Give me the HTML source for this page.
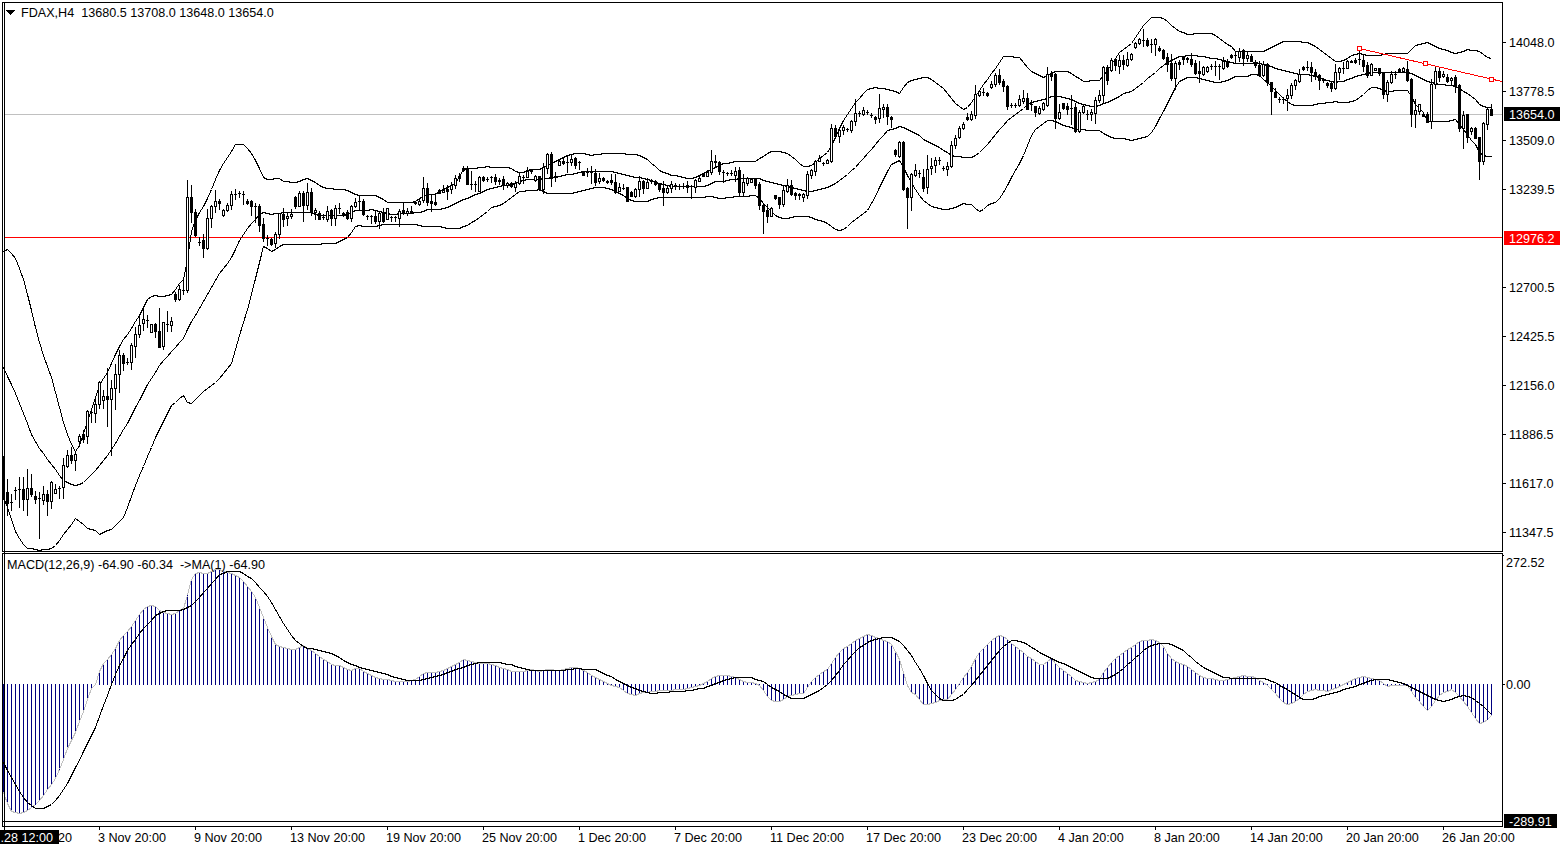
<!DOCTYPE html>
<html><head><meta charset="utf-8"><style>
html,body{margin:0;padding:0;background:#fff;width:1566px;height:850px;overflow:hidden}
svg{display:block}
.t{font-family:"Liberation Sans",sans-serif;font-size:12.6px;fill:#000;white-space:pre}
.w{fill:#fff}
</style></head><body>
<svg width="1566" height="850" viewBox="0 0 1566 850" shape-rendering="crispEdges">
<rect x="5" y="114" width="1497" height="1" fill="#c0c0c0"/>
<rect x="5" y="237" width="1497" height="1" fill="#ff0000"/>
<polyline points="3.5,251.5 7.5,249.5 11.5,253.5 15.5,258.5 19.5,268.5 23.5,279.5 27.5,294.5 31.5,310.5 35.5,327.5 39.5,342.5 43.5,355.5 47.5,366.5 51.5,377.5 55.5,392.5 59.5,407.5 63.5,422.5 67.5,434.5 71.5,444.5 75.5,451.5 79.5,445.5 83.5,433.5 87.5,421.5 91.5,409.5 95.5,397.5 99.5,385.5 103.5,378.5 107.5,372.5 111.5,363.5 115.5,354.5 119.5,346.5 123.5,339.5 127.5,334.5 131.5,328.5 135.5,321.5 139.5,315.5 143.5,307.5 147.5,299.5 151.5,296.5 155.5,295.5 159.5,296.5 163.5,296.5 167.5,295.5 171.5,294.5 175.5,289.5 179.5,283.5 183.5,279.5 187.5,259.5 191.5,231.5 195.5,220.5 199.5,212.5 203.5,206.5 207.5,198.5 211.5,189.5 215.5,179.5 219.5,170.5 223.5,163.5 227.5,157.5 231.5,151.5 235.5,144.5 239.5,144.5 243.5,144.5 247.5,148.5 251.5,153.5 255.5,160.5 259.5,168.5 263.5,177.5 267.5,179.5 271.5,179.5 275.5,178.5 279.5,178.5 283.5,181.5 287.5,181.5 291.5,182.5 295.5,182.5 299.5,181.5 303.5,179.5 307.5,178.5 311.5,180.5 315.5,182.5 319.5,185.5 323.5,187.5 327.5,188.5 331.5,188.5 335.5,189.5 339.5,189.5 343.5,189.5 347.5,190.5 351.5,192.5 355.5,194.5 359.5,195.5 363.5,195.5 367.5,195.5 371.5,195.5 375.5,195.5 379.5,197.5 383.5,199.5 387.5,202.5 391.5,202.5 395.5,202.5 399.5,202.5 403.5,202.5 407.5,202.5 411.5,202.5 415.5,201.5 419.5,198.5 423.5,196.5 427.5,194.5 431.5,194.5 435.5,194.5 439.5,191.5 443.5,189.5 447.5,187.5 451.5,185.5 455.5,183.5 459.5,176.5 463.5,169.5 467.5,168.5 471.5,168.5 475.5,168.5 479.5,167.5 483.5,167.5 487.5,166.5 491.5,167.5 495.5,167.5 499.5,167.5 503.5,167.5 507.5,167.5 511.5,168.5 515.5,171.5 519.5,172.5 523.5,172.5 527.5,170.5 531.5,169.5 535.5,169.5 539.5,169.5 543.5,167.5 547.5,165.5 551.5,163.5 555.5,161.5 559.5,159.5 563.5,157.5 567.5,155.5 571.5,154.5 575.5,153.5 579.5,153.5 583.5,153.5 587.5,154.5 591.5,155.5 595.5,154.5 599.5,154.5 603.5,153.5 607.5,153.5 611.5,153.5 615.5,153.5 619.5,153.5 623.5,153.5 627.5,154.5 631.5,154.5 635.5,154.5 639.5,155.5 643.5,157.5 647.5,159.5 651.5,163.5 655.5,166.5 659.5,170.5 663.5,172.5 667.5,173.5 671.5,175.5 675.5,175.5 679.5,176.5 683.5,177.5 687.5,178.5 691.5,178.5 695.5,177.5 699.5,175.5 703.5,173.5 707.5,171.5 711.5,169.5 715.5,167.5 719.5,165.5 723.5,163.5 727.5,163.5 731.5,162.5 735.5,161.5 739.5,161.5 743.5,161.5 747.5,161.5 751.5,161.5 755.5,161.5 759.5,158.5 763.5,156.5 767.5,153.5 771.5,151.5 775.5,151.5 779.5,151.5 783.5,152.5 787.5,153.5 791.5,156.5 795.5,159.5 799.5,163.5 803.5,166.5 807.5,166.5 811.5,165.5 815.5,162.5 819.5,158.5 823.5,155.5 827.5,152.5 831.5,145.5 835.5,137.5 839.5,128.5 843.5,120.5 847.5,114.5 851.5,108.5 855.5,102.5 859.5,98.5 863.5,93.5 867.5,89.5 871.5,88.5 875.5,87.5 879.5,88.5 883.5,88.5 887.5,89.5 891.5,90.5 895.5,91.5 899.5,93.5 903.5,87.5 907.5,82.5 911.5,80.5 915.5,79.5 919.5,78.5 923.5,77.5 927.5,77.5 931.5,79.5 935.5,82.5 939.5,85.5 943.5,88.5 947.5,93.5 951.5,98.5 955.5,103.5 959.5,106.5 963.5,109.5 967.5,107.5 971.5,102.5 975.5,96.5 979.5,90.5 983.5,84.5 987.5,79.5 991.5,73.5 995.5,68.5 999.5,62.5 1003.5,56.5 1007.5,56.5 1011.5,56.5 1015.5,57.5 1019.5,57.5 1023.5,62.5 1027.5,67.5 1031.5,71.5 1035.5,73.5 1039.5,75.5 1043.5,77.5 1047.5,75.5 1051.5,73.5 1055.5,71.5 1059.5,71.5 1063.5,71.5 1067.5,71.5 1071.5,73.5 1075.5,76.5 1079.5,78.5 1083.5,81.5 1087.5,81.5 1091.5,80.5 1095.5,80.5 1099.5,80.5 1103.5,75.5 1107.5,70.5 1111.5,64.5 1115.5,58.5 1119.5,52.5 1123.5,49.5 1127.5,46.5 1131.5,43.5 1135.5,37.5 1139.5,31.5 1143.5,25.5 1147.5,21.5 1151.5,17.5 1155.5,17.5 1159.5,17.5 1163.5,18.5 1167.5,21.5 1171.5,25.5 1175.5,28.5 1179.5,31.5 1183.5,32.5 1187.5,34.5 1191.5,34.5 1195.5,33.5 1199.5,33.5 1203.5,33.5 1207.5,33.5 1211.5,33.5 1215.5,35.5 1219.5,38.5 1223.5,41.5 1227.5,44.5 1231.5,46.5 1235.5,51.5 1239.5,51.5 1243.5,51.5 1247.5,51.5 1251.5,51.5 1255.5,51.5 1259.5,51.5 1263.5,51.5 1267.5,49.5 1271.5,47.5 1275.5,45.5 1279.5,43.5 1283.5,41.5 1287.5,41.5 1291.5,41.5 1295.5,41.5 1299.5,41.5 1303.5,42.5 1307.5,42.5 1311.5,44.5 1315.5,46.5 1319.5,49.5 1323.5,52.5 1327.5,55.5 1331.5,58.5 1335.5,61.5 1339.5,61.5 1343.5,60.5 1347.5,58.5 1351.5,55.5 1355.5,54.5 1359.5,53.5 1363.5,54.5 1367.5,55.5 1371.5,55.5 1375.5,55.5 1379.5,55.5 1383.5,54.5 1387.5,53.5 1391.5,53.5 1395.5,53.5 1399.5,53.5 1403.5,53.5 1407.5,53.5 1411.5,49.5 1415.5,45.5 1419.5,44.5 1423.5,43.5 1427.5,42.5 1431.5,44.5 1435.5,46.5 1439.5,48.5 1443.5,49.5 1447.5,50.5 1451.5,52.5 1455.5,53.5 1459.5,52.5 1463.5,51.5 1467.5,49.5 1471.5,50.5 1475.5,50.5 1479.5,51.5 1483.5,54.5 1487.5,57.5 1491.5,58.5" fill="none" stroke="#000" stroke-width="1"/>
<polyline points="3.5,367.5 7.5,376.5 11.5,384.5 15.5,393.5 19.5,403.5 23.5,413.5 27.5,423.5 31.5,434.5 35.5,441.5 39.5,448.5 43.5,453.5 47.5,459.5 51.5,464.5 55.5,469.5 59.5,475.5 63.5,480.5 67.5,482.5 71.5,484.5 75.5,485.5 79.5,484.5 83.5,482.5 87.5,478.5 91.5,474.5 95.5,470.5 99.5,465.5 103.5,460.5 107.5,455.5 111.5,449.5 115.5,443.5 119.5,436.5 123.5,429.5 127.5,423.5 131.5,415.5 135.5,407.5 139.5,400.5 143.5,392.5 147.5,384.5 151.5,378.5 155.5,372.5 159.5,365.5 163.5,360.5 167.5,356.5 171.5,351.5 175.5,347.5 179.5,342.5 183.5,338.5 187.5,329.5 191.5,321.5 195.5,315.5 199.5,308.5 203.5,301.5 207.5,294.5 211.5,287.5 215.5,280.5 219.5,273.5 223.5,268.5 227.5,263.5 231.5,257.5 235.5,249.5 239.5,240.5 243.5,234.5 247.5,228.5 251.5,223.5 255.5,219.5 259.5,214.5 263.5,212.5 267.5,213.5 271.5,214.5 275.5,213.5 279.5,213.5 283.5,212.5 287.5,212.5 291.5,212.5 295.5,212.5 299.5,212.5 303.5,212.5 307.5,212.5 311.5,212.5 315.5,214.5 319.5,215.5 323.5,215.5 327.5,215.5 331.5,215.5 335.5,215.5 339.5,215.5 343.5,215.5 347.5,214.5 351.5,212.5 355.5,210.5 359.5,210.5 363.5,210.5 367.5,210.5 371.5,209.5 375.5,210.5 379.5,211.5 383.5,212.5 387.5,213.5 391.5,214.5 395.5,214.5 399.5,213.5 403.5,213.5 407.5,213.5 411.5,213.5 415.5,212.5 419.5,212.5 423.5,211.5 427.5,209.5 431.5,209.5 435.5,209.5 439.5,209.5 443.5,208.5 447.5,207.5 451.5,205.5 455.5,203.5 459.5,201.5 463.5,199.5 467.5,198.5 471.5,196.5 475.5,194.5 479.5,193.5 483.5,191.5 487.5,189.5 491.5,188.5 495.5,187.5 499.5,186.5 503.5,185.5 507.5,185.5 511.5,184.5 515.5,183.5 519.5,181.5 523.5,180.5 527.5,179.5 531.5,179.5 535.5,179.5 539.5,179.5 543.5,178.5 547.5,178.5 551.5,177.5 555.5,177.5 559.5,176.5 563.5,175.5 567.5,174.5 571.5,174.5 575.5,173.5 579.5,172.5 583.5,171.5 587.5,171.5 591.5,171.5 595.5,171.5 599.5,171.5 603.5,171.5 607.5,171.5 611.5,171.5 615.5,172.5 619.5,173.5 623.5,174.5 627.5,175.5 631.5,176.5 635.5,177.5 639.5,177.5 643.5,178.5 647.5,179.5 651.5,180.5 655.5,182.5 659.5,183.5 663.5,184.5 667.5,185.5 671.5,186.5 675.5,186.5 679.5,186.5 683.5,186.5 687.5,186.5 691.5,186.5 695.5,186.5 699.5,186.5 703.5,186.5 707.5,185.5 711.5,183.5 715.5,181.5 719.5,181.5 723.5,181.5 727.5,180.5 731.5,179.5 735.5,179.5 739.5,178.5 743.5,178.5 747.5,178.5 751.5,178.5 755.5,178.5 759.5,178.5 763.5,180.5 767.5,181.5 771.5,182.5 775.5,183.5 779.5,184.5 783.5,185.5 787.5,186.5 791.5,187.5 795.5,188.5 799.5,189.5 803.5,190.5 807.5,191.5 811.5,191.5 815.5,190.5 819.5,189.5 823.5,188.5 827.5,187.5 831.5,185.5 835.5,183.5 839.5,180.5 843.5,177.5 847.5,174.5 851.5,170.5 855.5,167.5 859.5,162.5 863.5,158.5 867.5,153.5 871.5,149.5 875.5,144.5 879.5,139.5 883.5,135.5 887.5,130.5 891.5,129.5 895.5,128.5 899.5,126.5 903.5,127.5 907.5,129.5 911.5,131.5 915.5,133.5 919.5,135.5 923.5,139.5 927.5,141.5 931.5,143.5 935.5,145.5 939.5,147.5 943.5,150.5 947.5,152.5 951.5,155.5 955.5,156.5 959.5,156.5 963.5,157.5 967.5,157.5 971.5,157.5 975.5,155.5 979.5,152.5 983.5,148.5 987.5,144.5 991.5,139.5 995.5,134.5 999.5,129.5 1003.5,125.5 1007.5,120.5 1011.5,117.5 1015.5,114.5 1019.5,111.5 1023.5,108.5 1027.5,104.5 1031.5,102.5 1035.5,101.5 1039.5,100.5 1043.5,99.5 1047.5,98.5 1051.5,96.5 1055.5,96.5 1059.5,96.5 1063.5,97.5 1067.5,98.5 1071.5,99.5 1075.5,101.5 1079.5,103.5 1083.5,104.5 1087.5,105.5 1091.5,106.5 1095.5,106.5 1099.5,105.5 1103.5,103.5 1107.5,102.5 1111.5,100.5 1115.5,98.5 1119.5,96.5 1123.5,93.5 1127.5,92.5 1131.5,91.5 1135.5,88.5 1139.5,85.5 1143.5,82.5 1147.5,78.5 1151.5,75.5 1155.5,72.5 1159.5,68.5 1163.5,65.5 1167.5,62.5 1171.5,60.5 1175.5,58.5 1179.5,56.5 1183.5,56.5 1187.5,55.5 1191.5,55.5 1195.5,55.5 1199.5,56.5 1203.5,56.5 1207.5,57.5 1211.5,58.5 1215.5,58.5 1219.5,59.5 1223.5,60.5 1227.5,61.5 1231.5,62.5 1235.5,63.5 1239.5,63.5 1243.5,63.5 1247.5,63.5 1251.5,63.5 1255.5,62.5 1259.5,63.5 1263.5,64.5 1267.5,65.5 1271.5,66.5 1275.5,68.5 1279.5,69.5 1283.5,70.5 1287.5,71.5 1291.5,72.5 1295.5,73.5 1299.5,74.5 1303.5,74.5 1307.5,74.5 1311.5,75.5 1315.5,76.5 1319.5,77.5 1323.5,79.5 1327.5,80.5 1331.5,81.5 1335.5,82.5 1339.5,81.5 1343.5,81.5 1347.5,79.5 1351.5,78.5 1355.5,76.5 1359.5,75.5 1363.5,74.5 1367.5,73.5 1371.5,72.5 1375.5,72.5 1379.5,72.5 1383.5,72.5 1387.5,72.5 1391.5,72.5 1395.5,72.5 1399.5,72.5 1403.5,72.5 1407.5,72.5 1411.5,73.5 1415.5,75.5 1419.5,77.5 1423.5,79.5 1427.5,81.5 1431.5,82.5 1435.5,83.5 1439.5,84.5 1443.5,84.5 1447.5,85.5 1451.5,85.5 1455.5,86.5 1459.5,88.5 1463.5,91.5 1467.5,93.5 1471.5,96.5 1475.5,99.5 1479.5,104.5 1483.5,106.5 1487.5,107.5 1491.5,107.5" fill="none" stroke="#000" stroke-width="1"/>
<polyline points="3.5,497.5 7.5,507.5 11.5,519.5 15.5,531.5 19.5,538.5 23.5,544.5 27.5,548.5 31.5,548.5 35.5,549.5 39.5,550.5 43.5,549.5 47.5,549.5 51.5,548.5 55.5,545.5 59.5,540.5 63.5,534.5 67.5,529.5 71.5,524.5 75.5,518.5 79.5,521.5 83.5,524.5 87.5,528.5 91.5,529.5 95.5,530.5 99.5,534.5 103.5,532.5 107.5,530.5 111.5,529.5 115.5,525.5 119.5,521.5 123.5,517.5 127.5,507.5 131.5,496.5 135.5,485.5 139.5,475.5 143.5,466.5 147.5,456.5 151.5,447.5 155.5,437.5 159.5,429.5 163.5,421.5 167.5,413.5 171.5,405.5 175.5,402.5 179.5,398.5 183.5,395.5 187.5,402.5 191.5,403.5 195.5,399.5 199.5,395.5 203.5,391.5 207.5,388.5 211.5,385.5 215.5,382.5 219.5,378.5 223.5,373.5 227.5,368.5 231.5,363.5 235.5,349.5 239.5,335.5 243.5,322.5 247.5,309.5 251.5,294.5 255.5,278.5 259.5,262.5 263.5,246.5 267.5,248.5 271.5,251.5 275.5,249.5 279.5,246.5 283.5,244.5 287.5,244.5 291.5,244.5 295.5,244.5 299.5,244.5 303.5,244.5 307.5,244.5 311.5,244.5 315.5,244.5 319.5,244.5 323.5,243.5 327.5,243.5 331.5,243.5 335.5,243.5 339.5,241.5 343.5,239.5 347.5,237.5 351.5,232.5 355.5,226.5 359.5,225.5 363.5,226.5 367.5,226.5 371.5,226.5 375.5,226.5 379.5,225.5 383.5,224.5 387.5,224.5 391.5,224.5 395.5,224.5 399.5,224.5 403.5,224.5 407.5,224.5 411.5,224.5 415.5,224.5 419.5,225.5 423.5,226.5 427.5,226.5 431.5,226.5 435.5,226.5 439.5,226.5 443.5,227.5 447.5,228.5 451.5,228.5 455.5,228.5 459.5,228.5 463.5,226.5 467.5,225.5 471.5,222.5 475.5,220.5 479.5,217.5 483.5,214.5 487.5,211.5 491.5,207.5 495.5,206.5 499.5,205.5 503.5,203.5 507.5,200.5 511.5,197.5 515.5,194.5 519.5,191.5 523.5,191.5 527.5,190.5 531.5,190.5 535.5,190.5 539.5,189.5 543.5,191.5 547.5,193.5 551.5,193.5 555.5,193.5 559.5,193.5 563.5,193.5 567.5,193.5 571.5,193.5 575.5,192.5 579.5,191.5 583.5,190.5 587.5,189.5 591.5,188.5 595.5,187.5 599.5,187.5 603.5,187.5 607.5,188.5 611.5,189.5 615.5,191.5 619.5,193.5 623.5,195.5 627.5,198.5 631.5,200.5 635.5,201.5 639.5,201.5 643.5,201.5 647.5,201.5 651.5,199.5 655.5,198.5 659.5,197.5 663.5,197.5 667.5,197.5 671.5,197.5 675.5,197.5 679.5,197.5 683.5,197.5 687.5,197.5 691.5,197.5 695.5,197.5 699.5,197.5 703.5,197.5 707.5,196.5 711.5,196.5 715.5,197.5 719.5,198.5 723.5,198.5 727.5,197.5 731.5,197.5 735.5,196.5 739.5,196.5 743.5,196.5 747.5,196.5 751.5,195.5 755.5,195.5 759.5,198.5 763.5,203.5 767.5,207.5 771.5,211.5 775.5,215.5 779.5,217.5 783.5,218.5 787.5,218.5 791.5,217.5 795.5,216.5 799.5,216.5 803.5,216.5 807.5,216.5 811.5,217.5 815.5,219.5 819.5,220.5 823.5,221.5 827.5,223.5 831.5,226.5 835.5,229.5 839.5,230.5 843.5,229.5 847.5,226.5 851.5,222.5 855.5,219.5 859.5,216.5 863.5,213.5 867.5,210.5 871.5,203.5 875.5,196.5 879.5,187.5 883.5,179.5 887.5,171.5 891.5,164.5 895.5,162.5 899.5,160.5 903.5,167.5 907.5,175.5 911.5,182.5 915.5,189.5 919.5,195.5 923.5,200.5 927.5,203.5 931.5,206.5 935.5,207.5 939.5,208.5 943.5,209.5 947.5,209.5 951.5,208.5 955.5,207.5 959.5,205.5 963.5,203.5 967.5,204.5 971.5,204.5 975.5,208.5 979.5,211.5 983.5,209.5 987.5,205.5 991.5,203.5 995.5,202.5 999.5,198.5 1003.5,192.5 1007.5,185.5 1011.5,177.5 1015.5,170.5 1019.5,163.5 1023.5,155.5 1027.5,145.5 1031.5,135.5 1035.5,129.5 1039.5,126.5 1043.5,123.5 1047.5,120.5 1051.5,120.5 1055.5,121.5 1059.5,123.5 1063.5,125.5 1067.5,126.5 1071.5,127.5 1075.5,129.5 1079.5,129.5 1083.5,129.5 1087.5,130.5 1091.5,130.5 1095.5,130.5 1099.5,130.5 1103.5,133.5 1107.5,135.5 1111.5,137.5 1115.5,138.5 1119.5,138.5 1123.5,138.5 1127.5,139.5 1131.5,140.5 1135.5,139.5 1139.5,138.5 1143.5,137.5 1147.5,136.5 1151.5,132.5 1155.5,126.5 1159.5,118.5 1163.5,111.5 1167.5,103.5 1171.5,95.5 1175.5,87.5 1179.5,81.5 1183.5,79.5 1187.5,77.5 1191.5,77.5 1195.5,77.5 1199.5,78.5 1203.5,79.5 1207.5,80.5 1211.5,81.5 1215.5,82.5 1219.5,82.5 1223.5,81.5 1227.5,80.5 1231.5,78.5 1235.5,76.5 1239.5,76.5 1243.5,76.5 1247.5,76.5 1251.5,74.5 1255.5,74.5 1259.5,75.5 1263.5,79.5 1267.5,82.5 1271.5,86.5 1275.5,90.5 1279.5,94.5 1283.5,98.5 1287.5,101.5 1291.5,104.5 1295.5,105.5 1299.5,105.5 1303.5,105.5 1307.5,105.5 1311.5,105.5 1315.5,104.5 1319.5,103.5 1323.5,103.5 1327.5,102.5 1331.5,102.5 1335.5,101.5 1339.5,102.5 1343.5,102.5 1347.5,102.5 1351.5,101.5 1355.5,100.5 1359.5,97.5 1363.5,94.5 1367.5,90.5 1371.5,87.5 1375.5,87.5 1379.5,88.5 1383.5,90.5 1387.5,91.5 1391.5,91.5 1395.5,90.5 1399.5,90.5 1403.5,90.5 1407.5,90.5 1411.5,96.5 1415.5,104.5 1419.5,108.5 1423.5,112.5 1427.5,121.5 1431.5,121.5 1435.5,121.5 1439.5,121.5 1443.5,121.5 1447.5,121.5 1451.5,120.5 1455.5,119.5 1459.5,124.5 1463.5,129.5 1467.5,134.5 1471.5,140.5 1475.5,144.5 1479.5,152.5 1483.5,155.5 1487.5,156.5 1491.5,156.5" fill="none" stroke="#000" stroke-width="1"/>
<rect x="3" y="456" width="1" height="44" fill="#000"/>
<rect x="2" y="458" width="3" height="40" fill="#000"/>
<rect x="7" y="479" width="1" height="37" fill="#000"/>
<rect x="6" y="492" width="3" height="12" fill="#000"/>
<rect x="11" y="494" width="1" height="17" fill="#000"/>
<rect x="10" y="502" width="3" height="1" fill="#000"/>
<rect x="15" y="487" width="1" height="13" fill="#000"/>
<rect x="14" y="490" width="3" height="1" fill="#000"/>
<rect x="19" y="477" width="1" height="31" fill="#000"/>
<rect x="18" y="489" width="3" height="1" fill="#000"/>
<rect x="23" y="477" width="1" height="34" fill="#000"/>
<rect x="22" y="489" width="3" height="11" fill="#000"/>
<rect x="27" y="469" width="1" height="47" fill="#000"/>
<rect x="26" y="488" width="3" height="12" fill="#000"/>
<rect x="27" y="489" width="1" height="10" fill="#fff"/>
<rect x="31" y="474" width="1" height="23" fill="#000"/>
<rect x="30" y="488" width="3" height="7" fill="#000"/>
<rect x="35" y="491" width="1" height="13" fill="#000"/>
<rect x="34" y="496" width="3" height="4" fill="#000"/>
<rect x="39" y="492" width="1" height="47" fill="#000"/>
<rect x="38" y="498" width="3" height="1" fill="#000"/>
<rect x="43" y="486" width="1" height="19" fill="#000"/>
<rect x="42" y="494" width="3" height="7" fill="#000"/>
<rect x="43" y="495" width="1" height="5" fill="#fff"/>
<rect x="47" y="490" width="1" height="26" fill="#000"/>
<rect x="46" y="494" width="3" height="8" fill="#000"/>
<rect x="51" y="481" width="1" height="28" fill="#000"/>
<rect x="50" y="482" width="3" height="20" fill="#000"/>
<rect x="51" y="483" width="1" height="18" fill="#fff"/>
<rect x="55" y="484" width="1" height="10" fill="#000"/>
<rect x="54" y="489" width="3" height="5" fill="#000"/>
<rect x="55" y="490" width="1" height="3" fill="#fff"/>
<rect x="59" y="486" width="1" height="13" fill="#000"/>
<rect x="58" y="488" width="3" height="1" fill="#000"/>
<rect x="63" y="458" width="1" height="41" fill="#000"/>
<rect x="62" y="465" width="3" height="23" fill="#000"/>
<rect x="63" y="466" width="1" height="21" fill="#fff"/>
<rect x="67" y="450" width="1" height="18" fill="#000"/>
<rect x="66" y="455" width="3" height="12" fill="#000"/>
<rect x="67" y="456" width="1" height="10" fill="#fff"/>
<rect x="71" y="447" width="1" height="17" fill="#000"/>
<rect x="70" y="455" width="3" height="6" fill="#000"/>
<rect x="75" y="451" width="1" height="20" fill="#000"/>
<rect x="74" y="454" width="3" height="7" fill="#000"/>
<rect x="75" y="455" width="1" height="5" fill="#fff"/>
<rect x="79" y="434" width="1" height="13" fill="#000"/>
<rect x="78" y="436" width="3" height="6" fill="#000"/>
<rect x="79" y="437" width="1" height="4" fill="#fff"/>
<rect x="83" y="430" width="1" height="13" fill="#000"/>
<rect x="82" y="434" width="3" height="6" fill="#000"/>
<rect x="87" y="410" width="1" height="34" fill="#000"/>
<rect x="86" y="411" width="3" height="26" fill="#000"/>
<rect x="87" y="412" width="1" height="24" fill="#fff"/>
<rect x="91" y="409" width="1" height="14" fill="#000"/>
<rect x="90" y="412" width="3" height="1" fill="#000"/>
<rect x="95" y="398" width="1" height="25" fill="#000"/>
<rect x="94" y="404" width="3" height="10" fill="#000"/>
<rect x="95" y="405" width="1" height="8" fill="#fff"/>
<rect x="99" y="381" width="1" height="28" fill="#000"/>
<rect x="98" y="382" width="3" height="23" fill="#000"/>
<rect x="99" y="383" width="1" height="21" fill="#fff"/>
<rect x="103" y="390" width="1" height="19" fill="#000"/>
<rect x="102" y="396" width="3" height="5" fill="#000"/>
<rect x="103" y="397" width="1" height="3" fill="#fff"/>
<rect x="107" y="368" width="1" height="59" fill="#000"/>
<rect x="106" y="396" width="3" height="4" fill="#000"/>
<rect x="111" y="380" width="1" height="76" fill="#000"/>
<rect x="110" y="388" width="3" height="12" fill="#000"/>
<rect x="111" y="389" width="1" height="10" fill="#fff"/>
<rect x="115" y="364" width="1" height="46" fill="#000"/>
<rect x="114" y="374" width="3" height="15" fill="#000"/>
<rect x="115" y="375" width="1" height="13" fill="#fff"/>
<rect x="119" y="350" width="1" height="43" fill="#000"/>
<rect x="118" y="355" width="3" height="20" fill="#000"/>
<rect x="119" y="356" width="1" height="18" fill="#fff"/>
<rect x="123" y="353" width="1" height="18" fill="#000"/>
<rect x="122" y="355" width="3" height="9" fill="#000"/>
<rect x="127" y="358" width="1" height="7" fill="#000"/>
<rect x="126" y="362" width="3" height="1" fill="#000"/>
<rect x="131" y="343" width="1" height="27" fill="#000"/>
<rect x="130" y="345" width="3" height="18" fill="#000"/>
<rect x="131" y="346" width="1" height="16" fill="#fff"/>
<rect x="135" y="327" width="1" height="31" fill="#000"/>
<rect x="134" y="334" width="3" height="13" fill="#000"/>
<rect x="135" y="335" width="1" height="11" fill="#fff"/>
<rect x="139" y="315" width="1" height="23" fill="#000"/>
<rect x="138" y="325" width="3" height="10" fill="#000"/>
<rect x="139" y="326" width="1" height="8" fill="#fff"/>
<rect x="143" y="308" width="1" height="23" fill="#000"/>
<rect x="142" y="319" width="3" height="5" fill="#000"/>
<rect x="143" y="320" width="1" height="3" fill="#fff"/>
<rect x="147" y="315" width="1" height="13" fill="#000"/>
<rect x="146" y="320" width="3" height="1" fill="#000"/>
<rect x="151" y="324" width="1" height="9" fill="#000"/>
<rect x="150" y="324" width="3" height="9" fill="#000"/>
<rect x="151" y="325" width="1" height="7" fill="#fff"/>
<rect x="155" y="323" width="1" height="15" fill="#000"/>
<rect x="154" y="324" width="3" height="8" fill="#000"/>
<rect x="159" y="308" width="1" height="40" fill="#000"/>
<rect x="158" y="331" width="3" height="17" fill="#000"/>
<rect x="163" y="322" width="1" height="28" fill="#000"/>
<rect x="162" y="322" width="3" height="25" fill="#000"/>
<rect x="163" y="323" width="1" height="23" fill="#fff"/>
<rect x="167" y="311" width="1" height="21" fill="#000"/>
<rect x="166" y="324" width="3" height="1" fill="#000"/>
<rect x="171" y="317" width="1" height="15" fill="#000"/>
<rect x="170" y="321" width="3" height="5" fill="#000"/>
<rect x="171" y="322" width="1" height="3" fill="#fff"/>
<rect x="175" y="292" width="1" height="10" fill="#000"/>
<rect x="174" y="294" width="3" height="6" fill="#000"/>
<rect x="179" y="285" width="1" height="16" fill="#000"/>
<rect x="178" y="289" width="3" height="11" fill="#000"/>
<rect x="179" y="290" width="1" height="9" fill="#fff"/>
<rect x="183" y="278" width="1" height="17" fill="#000"/>
<rect x="182" y="290" width="3" height="1" fill="#000"/>
<rect x="187" y="180" width="1" height="113" fill="#000"/>
<rect x="186" y="197" width="3" height="94" fill="#000"/>
<rect x="187" y="198" width="1" height="92" fill="#fff"/>
<rect x="191" y="185" width="1" height="38" fill="#000"/>
<rect x="190" y="197" width="3" height="16" fill="#000"/>
<rect x="195" y="209" width="1" height="28" fill="#000"/>
<rect x="194" y="212" width="3" height="24" fill="#000"/>
<rect x="199" y="237" width="1" height="9" fill="#000"/>
<rect x="198" y="242" width="3" height="1" fill="#000"/>
<rect x="203" y="234" width="1" height="24" fill="#000"/>
<rect x="202" y="240" width="3" height="9" fill="#000"/>
<rect x="207" y="209" width="1" height="41" fill="#000"/>
<rect x="206" y="218" width="3" height="31" fill="#000"/>
<rect x="207" y="219" width="1" height="29" fill="#fff"/>
<rect x="211" y="205" width="1" height="23" fill="#000"/>
<rect x="210" y="206" width="3" height="13" fill="#000"/>
<rect x="211" y="207" width="1" height="11" fill="#fff"/>
<rect x="215" y="190" width="1" height="23" fill="#000"/>
<rect x="214" y="201" width="3" height="6" fill="#000"/>
<rect x="215" y="202" width="1" height="4" fill="#fff"/>
<rect x="219" y="199" width="1" height="11" fill="#000"/>
<rect x="218" y="201" width="3" height="3" fill="#000"/>
<rect x="223" y="209" width="1" height="8" fill="#000"/>
<rect x="222" y="210" width="3" height="6" fill="#000"/>
<rect x="223" y="211" width="1" height="4" fill="#fff"/>
<rect x="227" y="203" width="1" height="9" fill="#000"/>
<rect x="226" y="205" width="3" height="6" fill="#000"/>
<rect x="227" y="206" width="1" height="4" fill="#fff"/>
<rect x="231" y="191" width="1" height="19" fill="#000"/>
<rect x="230" y="194" width="3" height="12" fill="#000"/>
<rect x="231" y="195" width="1" height="10" fill="#fff"/>
<rect x="235" y="189" width="1" height="11" fill="#000"/>
<rect x="234" y="194" width="3" height="1" fill="#000"/>
<rect x="239" y="191" width="1" height="7" fill="#000"/>
<rect x="238" y="193" width="3" height="1" fill="#000"/>
<rect x="243" y="191" width="1" height="14" fill="#000"/>
<rect x="242" y="194" width="3" height="1" fill="#000"/>
<rect x="247" y="199" width="1" height="6" fill="#000"/>
<rect x="246" y="201" width="3" height="3" fill="#000"/>
<rect x="251" y="200" width="1" height="16" fill="#000"/>
<rect x="250" y="201" width="3" height="6" fill="#000"/>
<rect x="255" y="203" width="1" height="20" fill="#000"/>
<rect x="254" y="206" width="3" height="1" fill="#000"/>
<rect x="259" y="204" width="1" height="28" fill="#000"/>
<rect x="258" y="206" width="3" height="20" fill="#000"/>
<rect x="263" y="218" width="1" height="24" fill="#000"/>
<rect x="262" y="224" width="3" height="15" fill="#000"/>
<rect x="267" y="235" width="1" height="11" fill="#000"/>
<rect x="266" y="238" width="3" height="1" fill="#000"/>
<rect x="271" y="238" width="1" height="8" fill="#000"/>
<rect x="270" y="239" width="3" height="6" fill="#000"/>
<rect x="275" y="232" width="1" height="16" fill="#000"/>
<rect x="274" y="234" width="3" height="10" fill="#000"/>
<rect x="275" y="235" width="1" height="8" fill="#fff"/>
<rect x="279" y="213" width="1" height="26" fill="#000"/>
<rect x="278" y="213" width="3" height="22" fill="#000"/>
<rect x="279" y="214" width="1" height="20" fill="#fff"/>
<rect x="283" y="208" width="1" height="19" fill="#000"/>
<rect x="282" y="214" width="3" height="6" fill="#000"/>
<rect x="287" y="213" width="1" height="13" fill="#000"/>
<rect x="286" y="216" width="3" height="3" fill="#000"/>
<rect x="287" y="217" width="1" height="1" fill="#fff"/>
<rect x="291" y="209" width="1" height="10" fill="#000"/>
<rect x="290" y="214" width="3" height="3" fill="#000"/>
<rect x="291" y="215" width="1" height="1" fill="#fff"/>
<rect x="295" y="196" width="1" height="13" fill="#000"/>
<rect x="294" y="197" width="3" height="10" fill="#000"/>
<rect x="299" y="191" width="1" height="16" fill="#000"/>
<rect x="298" y="193" width="3" height="14" fill="#000"/>
<rect x="299" y="194" width="1" height="12" fill="#fff"/>
<rect x="303" y="191" width="1" height="31" fill="#000"/>
<rect x="302" y="193" width="3" height="13" fill="#000"/>
<rect x="307" y="183" width="1" height="27" fill="#000"/>
<rect x="306" y="192" width="3" height="14" fill="#000"/>
<rect x="307" y="193" width="1" height="12" fill="#fff"/>
<rect x="311" y="188" width="1" height="28" fill="#000"/>
<rect x="310" y="192" width="3" height="21" fill="#000"/>
<rect x="315" y="208" width="1" height="12" fill="#000"/>
<rect x="314" y="210" width="3" height="3" fill="#000"/>
<rect x="315" y="211" width="1" height="1" fill="#fff"/>
<rect x="319" y="211" width="1" height="9" fill="#000"/>
<rect x="318" y="213" width="3" height="7" fill="#000"/>
<rect x="323" y="214" width="1" height="6" fill="#000"/>
<rect x="322" y="217" width="3" height="1" fill="#000"/>
<rect x="327" y="206" width="1" height="16" fill="#000"/>
<rect x="326" y="211" width="3" height="9" fill="#000"/>
<rect x="327" y="212" width="1" height="7" fill="#fff"/>
<rect x="331" y="209" width="1" height="17" fill="#000"/>
<rect x="330" y="210" width="3" height="9" fill="#000"/>
<rect x="335" y="205" width="1" height="21" fill="#000"/>
<rect x="334" y="208" width="3" height="11" fill="#000"/>
<rect x="335" y="209" width="1" height="9" fill="#fff"/>
<rect x="339" y="203" width="1" height="11" fill="#000"/>
<rect x="338" y="208" width="3" height="1" fill="#000"/>
<rect x="343" y="212" width="1" height="5" fill="#000"/>
<rect x="342" y="213" width="3" height="3" fill="#000"/>
<rect x="347" y="210" width="1" height="10" fill="#000"/>
<rect x="346" y="212" width="3" height="7" fill="#000"/>
<rect x="351" y="205" width="1" height="17" fill="#000"/>
<rect x="350" y="206" width="3" height="13" fill="#000"/>
<rect x="351" y="207" width="1" height="11" fill="#fff"/>
<rect x="355" y="198" width="1" height="10" fill="#000"/>
<rect x="354" y="202" width="3" height="5" fill="#000"/>
<rect x="355" y="203" width="1" height="3" fill="#fff"/>
<rect x="359" y="195" width="1" height="15" fill="#000"/>
<rect x="358" y="201" width="3" height="1" fill="#000"/>
<rect x="363" y="199" width="1" height="17" fill="#000"/>
<rect x="362" y="201" width="3" height="14" fill="#000"/>
<rect x="367" y="215" width="1" height="5" fill="#000"/>
<rect x="366" y="216" width="3" height="1" fill="#000"/>
<rect x="371" y="215" width="1" height="9" fill="#000"/>
<rect x="370" y="216" width="3" height="1" fill="#000"/>
<rect x="375" y="211" width="1" height="13" fill="#000"/>
<rect x="374" y="216" width="3" height="6" fill="#000"/>
<rect x="379" y="211" width="1" height="18" fill="#000"/>
<rect x="378" y="213" width="3" height="9" fill="#000"/>
<rect x="379" y="214" width="1" height="7" fill="#fff"/>
<rect x="383" y="208" width="1" height="15" fill="#000"/>
<rect x="382" y="212" width="3" height="10" fill="#000"/>
<rect x="387" y="208" width="1" height="12" fill="#000"/>
<rect x="386" y="208" width="3" height="12" fill="#000"/>
<rect x="387" y="209" width="1" height="10" fill="#fff"/>
<rect x="391" y="216" width="1" height="6" fill="#000"/>
<rect x="390" y="217" width="3" height="1" fill="#000"/>
<rect x="395" y="216" width="1" height="6" fill="#000"/>
<rect x="394" y="217" width="3" height="1" fill="#000"/>
<rect x="399" y="209" width="1" height="18" fill="#000"/>
<rect x="398" y="211" width="3" height="8" fill="#000"/>
<rect x="399" y="212" width="1" height="6" fill="#fff"/>
<rect x="403" y="203" width="1" height="12" fill="#000"/>
<rect x="402" y="210" width="3" height="4" fill="#000"/>
<rect x="407" y="208" width="1" height="8" fill="#000"/>
<rect x="406" y="211" width="3" height="3" fill="#000"/>
<rect x="407" y="212" width="1" height="1" fill="#fff"/>
<rect x="411" y="206" width="1" height="8" fill="#000"/>
<rect x="410" y="211" width="3" height="2" fill="#000"/>
<rect x="415" y="201" width="1" height="4" fill="#000"/>
<rect x="414" y="202" width="3" height="2" fill="#000"/>
<rect x="419" y="199" width="1" height="7" fill="#000"/>
<rect x="418" y="201" width="3" height="4" fill="#000"/>
<rect x="419" y="202" width="1" height="2" fill="#fff"/>
<rect x="423" y="177" width="1" height="26" fill="#000"/>
<rect x="422" y="188" width="3" height="13" fill="#000"/>
<rect x="423" y="189" width="1" height="11" fill="#fff"/>
<rect x="427" y="183" width="1" height="23" fill="#000"/>
<rect x="426" y="188" width="3" height="15" fill="#000"/>
<rect x="431" y="195" width="1" height="17" fill="#000"/>
<rect x="430" y="201" width="3" height="3" fill="#000"/>
<rect x="435" y="193" width="1" height="13" fill="#000"/>
<rect x="434" y="202" width="3" height="3" fill="#000"/>
<rect x="439" y="189" width="1" height="5" fill="#000"/>
<rect x="438" y="190" width="3" height="4" fill="#000"/>
<rect x="443" y="185" width="1" height="8" fill="#000"/>
<rect x="442" y="190" width="3" height="3" fill="#000"/>
<rect x="443" y="191" width="1" height="1" fill="#fff"/>
<rect x="447" y="185" width="1" height="15" fill="#000"/>
<rect x="446" y="189" width="3" height="3" fill="#000"/>
<rect x="451" y="182" width="1" height="12" fill="#000"/>
<rect x="450" y="185" width="3" height="5" fill="#000"/>
<rect x="451" y="186" width="1" height="3" fill="#fff"/>
<rect x="455" y="175" width="1" height="14" fill="#000"/>
<rect x="454" y="178" width="3" height="8" fill="#000"/>
<rect x="455" y="179" width="1" height="6" fill="#fff"/>
<rect x="459" y="173" width="1" height="9" fill="#000"/>
<rect x="458" y="176" width="3" height="3" fill="#000"/>
<rect x="463" y="166" width="1" height="6" fill="#000"/>
<rect x="462" y="168" width="3" height="3" fill="#000"/>
<rect x="467" y="166" width="1" height="19" fill="#000"/>
<rect x="466" y="168" width="3" height="17" fill="#000"/>
<rect x="471" y="171" width="1" height="19" fill="#000"/>
<rect x="470" y="184" width="3" height="1" fill="#000"/>
<rect x="475" y="181" width="1" height="11" fill="#000"/>
<rect x="474" y="184" width="3" height="1" fill="#000"/>
<rect x="479" y="176" width="1" height="16" fill="#000"/>
<rect x="478" y="177" width="3" height="15" fill="#000"/>
<rect x="479" y="178" width="1" height="13" fill="#fff"/>
<rect x="483" y="176" width="1" height="6" fill="#000"/>
<rect x="482" y="177" width="3" height="4" fill="#000"/>
<rect x="487" y="177" width="1" height="5" fill="#000"/>
<rect x="486" y="179" width="3" height="1" fill="#000"/>
<rect x="491" y="176" width="1" height="7" fill="#000"/>
<rect x="490" y="177" width="3" height="1" fill="#000"/>
<rect x="495" y="174" width="1" height="11" fill="#000"/>
<rect x="494" y="177" width="3" height="5" fill="#000"/>
<rect x="499" y="178" width="1" height="7" fill="#000"/>
<rect x="498" y="180" width="3" height="2" fill="#000"/>
<rect x="503" y="176" width="1" height="14" fill="#000"/>
<rect x="502" y="179" width="3" height="7" fill="#000"/>
<rect x="507" y="182" width="1" height="6" fill="#000"/>
<rect x="506" y="183" width="3" height="3" fill="#000"/>
<rect x="507" y="184" width="1" height="1" fill="#fff"/>
<rect x="511" y="182" width="1" height="6" fill="#000"/>
<rect x="510" y="183" width="3" height="4" fill="#000"/>
<rect x="515" y="181" width="1" height="11" fill="#000"/>
<rect x="514" y="183" width="3" height="5" fill="#000"/>
<rect x="515" y="184" width="1" height="3" fill="#fff"/>
<rect x="519" y="172" width="1" height="13" fill="#000"/>
<rect x="518" y="176" width="3" height="8" fill="#000"/>
<rect x="519" y="177" width="1" height="6" fill="#fff"/>
<rect x="523" y="175" width="1" height="9" fill="#000"/>
<rect x="522" y="177" width="3" height="1" fill="#000"/>
<rect x="527" y="167" width="1" height="11" fill="#000"/>
<rect x="526" y="171" width="3" height="7" fill="#000"/>
<rect x="527" y="172" width="1" height="5" fill="#fff"/>
<rect x="531" y="169" width="1" height="5" fill="#000"/>
<rect x="530" y="170" width="3" height="2" fill="#000"/>
<rect x="535" y="175" width="1" height="7" fill="#000"/>
<rect x="534" y="176" width="3" height="5" fill="#000"/>
<rect x="535" y="177" width="1" height="3" fill="#fff"/>
<rect x="539" y="176" width="1" height="15" fill="#000"/>
<rect x="538" y="176" width="3" height="14" fill="#000"/>
<rect x="543" y="163" width="1" height="31" fill="#000"/>
<rect x="542" y="167" width="3" height="23" fill="#000"/>
<rect x="543" y="168" width="1" height="21" fill="#fff"/>
<rect x="547" y="153" width="1" height="21" fill="#000"/>
<rect x="546" y="154" width="3" height="15" fill="#000"/>
<rect x="547" y="155" width="1" height="13" fill="#fff"/>
<rect x="551" y="152" width="1" height="35" fill="#000"/>
<rect x="550" y="154" width="3" height="25" fill="#000"/>
<rect x="555" y="172" width="1" height="10" fill="#000"/>
<rect x="554" y="176" width="3" height="1" fill="#000"/>
<rect x="559" y="160" width="1" height="6" fill="#000"/>
<rect x="558" y="161" width="3" height="5" fill="#000"/>
<rect x="559" y="162" width="1" height="3" fill="#fff"/>
<rect x="563" y="157" width="1" height="8" fill="#000"/>
<rect x="562" y="161" width="3" height="3" fill="#000"/>
<rect x="567" y="156" width="1" height="17" fill="#000"/>
<rect x="566" y="162" width="3" height="1" fill="#000"/>
<rect x="571" y="155" width="1" height="11" fill="#000"/>
<rect x="570" y="159" width="3" height="4" fill="#000"/>
<rect x="571" y="160" width="1" height="2" fill="#fff"/>
<rect x="575" y="157" width="1" height="12" fill="#000"/>
<rect x="574" y="158" width="3" height="8" fill="#000"/>
<rect x="579" y="161" width="1" height="9" fill="#000"/>
<rect x="578" y="162" width="3" height="1" fill="#000"/>
<rect x="583" y="171" width="1" height="5" fill="#000"/>
<rect x="582" y="172" width="3" height="4" fill="#000"/>
<rect x="587" y="168" width="1" height="9" fill="#000"/>
<rect x="586" y="172" width="3" height="1" fill="#000"/>
<rect x="591" y="166" width="1" height="18" fill="#000"/>
<rect x="590" y="172" width="3" height="1" fill="#000"/>
<rect x="595" y="169" width="1" height="17" fill="#000"/>
<rect x="594" y="173" width="3" height="10" fill="#000"/>
<rect x="599" y="173" width="1" height="11" fill="#000"/>
<rect x="598" y="178" width="3" height="4" fill="#000"/>
<rect x="599" y="179" width="1" height="2" fill="#fff"/>
<rect x="603" y="177" width="1" height="5" fill="#000"/>
<rect x="602" y="178" width="3" height="3" fill="#000"/>
<rect x="607" y="180" width="1" height="4" fill="#000"/>
<rect x="606" y="181" width="3" height="2" fill="#000"/>
<rect x="611" y="174" width="1" height="11" fill="#000"/>
<rect x="610" y="180" width="3" height="3" fill="#000"/>
<rect x="615" y="174" width="1" height="20" fill="#000"/>
<rect x="614" y="182" width="3" height="11" fill="#000"/>
<rect x="619" y="183" width="1" height="9" fill="#000"/>
<rect x="618" y="187" width="3" height="5" fill="#000"/>
<rect x="619" y="188" width="1" height="3" fill="#fff"/>
<rect x="623" y="184" width="1" height="6" fill="#000"/>
<rect x="622" y="188" width="3" height="1" fill="#000"/>
<rect x="627" y="187" width="1" height="15" fill="#000"/>
<rect x="626" y="187" width="3" height="15" fill="#000"/>
<rect x="631" y="191" width="1" height="6" fill="#000"/>
<rect x="630" y="192" width="3" height="5" fill="#000"/>
<rect x="635" y="188" width="1" height="10" fill="#000"/>
<rect x="634" y="189" width="3" height="8" fill="#000"/>
<rect x="635" y="190" width="1" height="6" fill="#fff"/>
<rect x="639" y="176" width="1" height="21" fill="#000"/>
<rect x="638" y="181" width="3" height="9" fill="#000"/>
<rect x="639" y="182" width="1" height="7" fill="#fff"/>
<rect x="643" y="180" width="1" height="14" fill="#000"/>
<rect x="642" y="181" width="3" height="8" fill="#000"/>
<rect x="647" y="178" width="1" height="11" fill="#000"/>
<rect x="646" y="182" width="3" height="7" fill="#000"/>
<rect x="647" y="183" width="1" height="5" fill="#fff"/>
<rect x="651" y="179" width="1" height="5" fill="#000"/>
<rect x="650" y="181" width="3" height="1" fill="#000"/>
<rect x="655" y="180" width="1" height="6" fill="#000"/>
<rect x="654" y="181" width="3" height="4" fill="#000"/>
<rect x="659" y="183" width="1" height="9" fill="#000"/>
<rect x="658" y="183" width="3" height="7" fill="#000"/>
<rect x="663" y="181" width="1" height="25" fill="#000"/>
<rect x="662" y="188" width="3" height="5" fill="#000"/>
<rect x="667" y="185" width="1" height="9" fill="#000"/>
<rect x="666" y="188" width="3" height="5" fill="#000"/>
<rect x="667" y="189" width="1" height="3" fill="#fff"/>
<rect x="671" y="181" width="1" height="12" fill="#000"/>
<rect x="670" y="184" width="3" height="5" fill="#000"/>
<rect x="671" y="185" width="1" height="3" fill="#fff"/>
<rect x="675" y="183" width="1" height="7" fill="#000"/>
<rect x="674" y="185" width="3" height="1" fill="#000"/>
<rect x="679" y="184" width="1" height="6" fill="#000"/>
<rect x="678" y="186" width="3" height="1" fill="#000"/>
<rect x="683" y="183" width="1" height="6" fill="#000"/>
<rect x="682" y="186" width="3" height="1" fill="#000"/>
<rect x="687" y="181" width="1" height="12" fill="#000"/>
<rect x="686" y="185" width="3" height="3" fill="#000"/>
<rect x="691" y="185" width="1" height="14" fill="#000"/>
<rect x="690" y="186" width="3" height="1" fill="#000"/>
<rect x="695" y="179" width="1" height="14" fill="#000"/>
<rect x="694" y="180" width="3" height="8" fill="#000"/>
<rect x="695" y="181" width="1" height="6" fill="#fff"/>
<rect x="699" y="176" width="1" height="6" fill="#000"/>
<rect x="698" y="178" width="3" height="4" fill="#000"/>
<rect x="699" y="179" width="1" height="2" fill="#fff"/>
<rect x="703" y="173" width="1" height="4" fill="#000"/>
<rect x="702" y="174" width="3" height="3" fill="#000"/>
<rect x="707" y="170" width="1" height="7" fill="#000"/>
<rect x="706" y="172" width="3" height="5" fill="#000"/>
<rect x="707" y="173" width="1" height="3" fill="#fff"/>
<rect x="711" y="150" width="1" height="25" fill="#000"/>
<rect x="710" y="161" width="3" height="12" fill="#000"/>
<rect x="711" y="162" width="1" height="10" fill="#fff"/>
<rect x="715" y="155" width="1" height="12" fill="#000"/>
<rect x="714" y="161" width="3" height="2" fill="#000"/>
<rect x="719" y="161" width="1" height="14" fill="#000"/>
<rect x="718" y="162" width="3" height="10" fill="#000"/>
<rect x="723" y="170" width="1" height="13" fill="#000"/>
<rect x="722" y="172" width="3" height="1" fill="#000"/>
<rect x="727" y="172" width="1" height="4" fill="#000"/>
<rect x="726" y="173" width="3" height="1" fill="#000"/>
<rect x="731" y="170" width="1" height="6" fill="#000"/>
<rect x="730" y="173" width="3" height="1" fill="#000"/>
<rect x="735" y="167" width="1" height="15" fill="#000"/>
<rect x="734" y="171" width="3" height="5" fill="#000"/>
<rect x="735" y="172" width="1" height="3" fill="#fff"/>
<rect x="739" y="167" width="1" height="30" fill="#000"/>
<rect x="738" y="170" width="3" height="23" fill="#000"/>
<rect x="743" y="174" width="1" height="22" fill="#000"/>
<rect x="742" y="182" width="3" height="11" fill="#000"/>
<rect x="743" y="183" width="1" height="9" fill="#fff"/>
<rect x="747" y="177" width="1" height="9" fill="#000"/>
<rect x="746" y="178" width="3" height="6" fill="#000"/>
<rect x="747" y="179" width="1" height="4" fill="#fff"/>
<rect x="751" y="178" width="1" height="5" fill="#000"/>
<rect x="750" y="179" width="3" height="4" fill="#000"/>
<rect x="751" y="180" width="1" height="2" fill="#fff"/>
<rect x="755" y="178" width="1" height="11" fill="#000"/>
<rect x="754" y="179" width="3" height="7" fill="#000"/>
<rect x="759" y="182" width="1" height="28" fill="#000"/>
<rect x="758" y="184" width="3" height="22" fill="#000"/>
<rect x="763" y="203" width="1" height="31" fill="#000"/>
<rect x="762" y="205" width="3" height="7" fill="#000"/>
<rect x="767" y="204" width="1" height="19" fill="#000"/>
<rect x="766" y="210" width="3" height="7" fill="#000"/>
<rect x="771" y="207" width="1" height="10" fill="#000"/>
<rect x="770" y="208" width="3" height="9" fill="#000"/>
<rect x="771" y="209" width="1" height="7" fill="#fff"/>
<rect x="775" y="195" width="1" height="5" fill="#000"/>
<rect x="774" y="195" width="3" height="4" fill="#000"/>
<rect x="779" y="197" width="1" height="12" fill="#000"/>
<rect x="778" y="197" width="3" height="8" fill="#000"/>
<rect x="783" y="185" width="1" height="22" fill="#000"/>
<rect x="782" y="190" width="3" height="15" fill="#000"/>
<rect x="783" y="191" width="1" height="13" fill="#fff"/>
<rect x="787" y="179" width="1" height="14" fill="#000"/>
<rect x="786" y="185" width="3" height="7" fill="#000"/>
<rect x="787" y="186" width="1" height="5" fill="#fff"/>
<rect x="791" y="180" width="1" height="16" fill="#000"/>
<rect x="790" y="185" width="3" height="10" fill="#000"/>
<rect x="795" y="192" width="1" height="8" fill="#000"/>
<rect x="794" y="193" width="3" height="3" fill="#000"/>
<rect x="799" y="193" width="1" height="7" fill="#000"/>
<rect x="798" y="194" width="3" height="2" fill="#000"/>
<rect x="803" y="193" width="1" height="9" fill="#000"/>
<rect x="802" y="194" width="3" height="4" fill="#000"/>
<rect x="803" y="195" width="1" height="2" fill="#fff"/>
<rect x="807" y="171" width="1" height="28" fill="#000"/>
<rect x="806" y="174" width="3" height="22" fill="#000"/>
<rect x="807" y="175" width="1" height="20" fill="#fff"/>
<rect x="811" y="169" width="1" height="10" fill="#000"/>
<rect x="810" y="170" width="3" height="6" fill="#000"/>
<rect x="811" y="171" width="1" height="4" fill="#fff"/>
<rect x="815" y="160" width="1" height="16" fill="#000"/>
<rect x="814" y="161" width="3" height="11" fill="#000"/>
<rect x="815" y="162" width="1" height="9" fill="#fff"/>
<rect x="819" y="155" width="1" height="7" fill="#000"/>
<rect x="818" y="158" width="3" height="4" fill="#000"/>
<rect x="819" y="159" width="1" height="2" fill="#fff"/>
<rect x="823" y="162" width="1" height="4" fill="#000"/>
<rect x="822" y="163" width="3" height="1" fill="#000"/>
<rect x="827" y="159" width="1" height="5" fill="#000"/>
<rect x="826" y="160" width="3" height="4" fill="#000"/>
<rect x="827" y="161" width="1" height="2" fill="#fff"/>
<rect x="831" y="124" width="1" height="39" fill="#000"/>
<rect x="830" y="128" width="3" height="34" fill="#000"/>
<rect x="831" y="129" width="1" height="32" fill="#fff"/>
<rect x="835" y="125" width="1" height="13" fill="#000"/>
<rect x="834" y="128" width="3" height="9" fill="#000"/>
<rect x="839" y="128" width="1" height="15" fill="#000"/>
<rect x="838" y="130" width="3" height="7" fill="#000"/>
<rect x="839" y="131" width="1" height="5" fill="#fff"/>
<rect x="843" y="125" width="1" height="10" fill="#000"/>
<rect x="842" y="127" width="3" height="4" fill="#000"/>
<rect x="843" y="128" width="1" height="2" fill="#fff"/>
<rect x="847" y="128" width="1" height="4" fill="#000"/>
<rect x="846" y="129" width="3" height="1" fill="#000"/>
<rect x="851" y="120" width="1" height="13" fill="#000"/>
<rect x="850" y="121" width="3" height="10" fill="#000"/>
<rect x="851" y="122" width="1" height="8" fill="#fff"/>
<rect x="855" y="99" width="1" height="27" fill="#000"/>
<rect x="854" y="113" width="3" height="9" fill="#000"/>
<rect x="855" y="114" width="1" height="7" fill="#fff"/>
<rect x="859" y="111" width="1" height="6" fill="#000"/>
<rect x="858" y="113" width="3" height="1" fill="#000"/>
<rect x="863" y="107" width="1" height="9" fill="#000"/>
<rect x="862" y="110" width="3" height="5" fill="#000"/>
<rect x="863" y="111" width="1" height="3" fill="#fff"/>
<rect x="867" y="110" width="1" height="5" fill="#000"/>
<rect x="866" y="112" width="3" height="1" fill="#000"/>
<rect x="871" y="113" width="1" height="5" fill="#000"/>
<rect x="870" y="115" width="3" height="1" fill="#000"/>
<rect x="875" y="116" width="1" height="8" fill="#000"/>
<rect x="874" y="117" width="3" height="3" fill="#000"/>
<rect x="879" y="94" width="1" height="29" fill="#000"/>
<rect x="878" y="108" width="3" height="11" fill="#000"/>
<rect x="879" y="109" width="1" height="9" fill="#fff"/>
<rect x="883" y="104" width="1" height="14" fill="#000"/>
<rect x="882" y="107" width="3" height="3" fill="#000"/>
<rect x="883" y="108" width="1" height="1" fill="#fff"/>
<rect x="887" y="104" width="1" height="21" fill="#000"/>
<rect x="886" y="107" width="3" height="10" fill="#000"/>
<rect x="891" y="116" width="1" height="12" fill="#000"/>
<rect x="890" y="117" width="3" height="3" fill="#000"/>
<rect x="895" y="149" width="1" height="8" fill="#000"/>
<rect x="894" y="150" width="3" height="5" fill="#000"/>
<rect x="899" y="141" width="1" height="17" fill="#000"/>
<rect x="898" y="142" width="3" height="15" fill="#000"/>
<rect x="899" y="143" width="1" height="13" fill="#fff"/>
<rect x="903" y="141" width="1" height="50" fill="#000"/>
<rect x="902" y="142" width="3" height="48" fill="#000"/>
<rect x="907" y="187" width="1" height="42" fill="#000"/>
<rect x="906" y="188" width="3" height="10" fill="#000"/>
<rect x="911" y="173" width="1" height="38" fill="#000"/>
<rect x="910" y="174" width="3" height="24" fill="#000"/>
<rect x="911" y="175" width="1" height="22" fill="#fff"/>
<rect x="915" y="164" width="1" height="13" fill="#000"/>
<rect x="914" y="170" width="3" height="6" fill="#000"/>
<rect x="915" y="171" width="1" height="4" fill="#fff"/>
<rect x="919" y="170" width="1" height="8" fill="#000"/>
<rect x="918" y="173" width="3" height="1" fill="#000"/>
<rect x="923" y="169" width="1" height="23" fill="#000"/>
<rect x="922" y="177" width="3" height="12" fill="#000"/>
<rect x="927" y="155" width="1" height="39" fill="#000"/>
<rect x="926" y="169" width="3" height="19" fill="#000"/>
<rect x="927" y="170" width="1" height="17" fill="#fff"/>
<rect x="931" y="158" width="1" height="17" fill="#000"/>
<rect x="930" y="166" width="3" height="3" fill="#000"/>
<rect x="931" y="167" width="1" height="1" fill="#fff"/>
<rect x="935" y="157" width="1" height="16" fill="#000"/>
<rect x="934" y="160" width="3" height="6" fill="#000"/>
<rect x="935" y="161" width="1" height="4" fill="#fff"/>
<rect x="939" y="157" width="1" height="8" fill="#000"/>
<rect x="938" y="160" width="3" height="1" fill="#000"/>
<rect x="943" y="166" width="1" height="5" fill="#000"/>
<rect x="942" y="168" width="3" height="1" fill="#000"/>
<rect x="947" y="162" width="1" height="14" fill="#000"/>
<rect x="946" y="166" width="3" height="4" fill="#000"/>
<rect x="947" y="167" width="1" height="2" fill="#fff"/>
<rect x="951" y="141" width="1" height="27" fill="#000"/>
<rect x="950" y="145" width="3" height="22" fill="#000"/>
<rect x="951" y="146" width="1" height="20" fill="#fff"/>
<rect x="955" y="135" width="1" height="14" fill="#000"/>
<rect x="954" y="138" width="3" height="8" fill="#000"/>
<rect x="955" y="139" width="1" height="6" fill="#fff"/>
<rect x="959" y="126" width="1" height="13" fill="#000"/>
<rect x="958" y="128" width="3" height="10" fill="#000"/>
<rect x="959" y="129" width="1" height="8" fill="#fff"/>
<rect x="963" y="122" width="1" height="8" fill="#000"/>
<rect x="962" y="124" width="3" height="5" fill="#000"/>
<rect x="963" y="125" width="1" height="3" fill="#fff"/>
<rect x="967" y="113" width="1" height="8" fill="#000"/>
<rect x="966" y="117" width="3" height="3" fill="#000"/>
<rect x="971" y="111" width="1" height="10" fill="#000"/>
<rect x="970" y="114" width="3" height="6" fill="#000"/>
<rect x="971" y="115" width="1" height="4" fill="#fff"/>
<rect x="975" y="85" width="1" height="34" fill="#000"/>
<rect x="974" y="94" width="3" height="22" fill="#000"/>
<rect x="975" y="95" width="1" height="20" fill="#fff"/>
<rect x="979" y="90" width="1" height="7" fill="#000"/>
<rect x="978" y="91" width="3" height="5" fill="#000"/>
<rect x="979" y="92" width="1" height="3" fill="#fff"/>
<rect x="983" y="88" width="1" height="8" fill="#000"/>
<rect x="982" y="92" width="3" height="1" fill="#000"/>
<rect x="987" y="92" width="1" height="5" fill="#000"/>
<rect x="986" y="93" width="3" height="3" fill="#000"/>
<rect x="991" y="81" width="1" height="8" fill="#000"/>
<rect x="990" y="84" width="3" height="4" fill="#000"/>
<rect x="991" y="85" width="1" height="2" fill="#fff"/>
<rect x="995" y="73" width="1" height="14" fill="#000"/>
<rect x="994" y="75" width="3" height="10" fill="#000"/>
<rect x="995" y="76" width="1" height="8" fill="#fff"/>
<rect x="999" y="69" width="1" height="16" fill="#000"/>
<rect x="998" y="75" width="3" height="8" fill="#000"/>
<rect x="1003" y="79" width="1" height="13" fill="#000"/>
<rect x="1002" y="81" width="3" height="6" fill="#000"/>
<rect x="1007" y="85" width="1" height="25" fill="#000"/>
<rect x="1006" y="86" width="3" height="21" fill="#000"/>
<rect x="1011" y="103" width="1" height="5" fill="#000"/>
<rect x="1010" y="105" width="3" height="1" fill="#000"/>
<rect x="1015" y="103" width="1" height="5" fill="#000"/>
<rect x="1014" y="105" width="3" height="1" fill="#000"/>
<rect x="1019" y="95" width="1" height="12" fill="#000"/>
<rect x="1018" y="99" width="3" height="7" fill="#000"/>
<rect x="1019" y="100" width="1" height="5" fill="#fff"/>
<rect x="1023" y="90" width="1" height="14" fill="#000"/>
<rect x="1022" y="98" width="3" height="4" fill="#000"/>
<rect x="1023" y="99" width="1" height="2" fill="#fff"/>
<rect x="1027" y="93" width="1" height="17" fill="#000"/>
<rect x="1026" y="98" width="3" height="12" fill="#000"/>
<rect x="1031" y="100" width="1" height="11" fill="#000"/>
<rect x="1030" y="104" width="3" height="1" fill="#000"/>
<rect x="1035" y="106" width="1" height="11" fill="#000"/>
<rect x="1034" y="106" width="3" height="7" fill="#000"/>
<rect x="1039" y="106" width="1" height="9" fill="#000"/>
<rect x="1038" y="108" width="3" height="6" fill="#000"/>
<rect x="1039" y="109" width="1" height="4" fill="#fff"/>
<rect x="1043" y="102" width="1" height="9" fill="#000"/>
<rect x="1042" y="103" width="3" height="7" fill="#000"/>
<rect x="1043" y="104" width="1" height="5" fill="#fff"/>
<rect x="1047" y="67" width="1" height="40" fill="#000"/>
<rect x="1046" y="74" width="3" height="32" fill="#000"/>
<rect x="1047" y="75" width="1" height="30" fill="#fff"/>
<rect x="1051" y="71" width="1" height="10" fill="#000"/>
<rect x="1050" y="74" width="3" height="3" fill="#000"/>
<rect x="1055" y="73" width="1" height="56" fill="#000"/>
<rect x="1054" y="74" width="3" height="45" fill="#000"/>
<rect x="1059" y="104" width="1" height="16" fill="#000"/>
<rect x="1058" y="112" width="3" height="7" fill="#000"/>
<rect x="1059" y="113" width="1" height="5" fill="#fff"/>
<rect x="1063" y="103" width="1" height="7" fill="#000"/>
<rect x="1062" y="103" width="3" height="6" fill="#000"/>
<rect x="1067" y="103" width="1" height="12" fill="#000"/>
<rect x="1066" y="106" width="3" height="4" fill="#000"/>
<rect x="1071" y="95" width="1" height="30" fill="#000"/>
<rect x="1070" y="108" width="3" height="1" fill="#000"/>
<rect x="1075" y="103" width="1" height="30" fill="#000"/>
<rect x="1074" y="107" width="3" height="25" fill="#000"/>
<rect x="1079" y="110" width="1" height="23" fill="#000"/>
<rect x="1078" y="112" width="3" height="20" fill="#000"/>
<rect x="1079" y="113" width="1" height="18" fill="#fff"/>
<rect x="1083" y="105" width="1" height="9" fill="#000"/>
<rect x="1082" y="106" width="3" height="7" fill="#000"/>
<rect x="1083" y="107" width="1" height="5" fill="#fff"/>
<rect x="1087" y="110" width="1" height="10" fill="#000"/>
<rect x="1086" y="114" width="3" height="1" fill="#000"/>
<rect x="1091" y="109" width="1" height="12" fill="#000"/>
<rect x="1090" y="112" width="3" height="3" fill="#000"/>
<rect x="1091" y="113" width="1" height="1" fill="#fff"/>
<rect x="1095" y="97" width="1" height="27" fill="#000"/>
<rect x="1094" y="100" width="3" height="14" fill="#000"/>
<rect x="1095" y="101" width="1" height="12" fill="#fff"/>
<rect x="1099" y="90" width="1" height="13" fill="#000"/>
<rect x="1098" y="95" width="3" height="6" fill="#000"/>
<rect x="1099" y="96" width="1" height="4" fill="#fff"/>
<rect x="1103" y="66" width="1" height="38" fill="#000"/>
<rect x="1102" y="67" width="3" height="29" fill="#000"/>
<rect x="1103" y="68" width="1" height="27" fill="#fff"/>
<rect x="1107" y="65" width="1" height="20" fill="#000"/>
<rect x="1106" y="67" width="3" height="14" fill="#000"/>
<rect x="1111" y="58" width="1" height="14" fill="#000"/>
<rect x="1110" y="60" width="3" height="11" fill="#000"/>
<rect x="1111" y="61" width="1" height="9" fill="#fff"/>
<rect x="1115" y="58" width="1" height="13" fill="#000"/>
<rect x="1114" y="59" width="3" height="7" fill="#000"/>
<rect x="1119" y="55" width="1" height="19" fill="#000"/>
<rect x="1118" y="60" width="3" height="7" fill="#000"/>
<rect x="1119" y="61" width="1" height="5" fill="#fff"/>
<rect x="1123" y="55" width="1" height="15" fill="#000"/>
<rect x="1122" y="60" width="3" height="5" fill="#000"/>
<rect x="1127" y="52" width="1" height="15" fill="#000"/>
<rect x="1126" y="59" width="3" height="7" fill="#000"/>
<rect x="1127" y="60" width="1" height="5" fill="#fff"/>
<rect x="1131" y="53" width="1" height="8" fill="#000"/>
<rect x="1130" y="54" width="3" height="6" fill="#000"/>
<rect x="1131" y="55" width="1" height="4" fill="#fff"/>
<rect x="1135" y="42" width="1" height="7" fill="#000"/>
<rect x="1134" y="43" width="3" height="5" fill="#000"/>
<rect x="1135" y="44" width="1" height="3" fill="#fff"/>
<rect x="1139" y="38" width="1" height="7" fill="#000"/>
<rect x="1138" y="39" width="3" height="5" fill="#000"/>
<rect x="1139" y="40" width="1" height="3" fill="#fff"/>
<rect x="1143" y="29" width="1" height="18" fill="#000"/>
<rect x="1142" y="40" width="3" height="1" fill="#000"/>
<rect x="1147" y="38" width="1" height="9" fill="#000"/>
<rect x="1146" y="40" width="3" height="6" fill="#000"/>
<rect x="1151" y="39" width="1" height="14" fill="#000"/>
<rect x="1150" y="44" width="3" height="1" fill="#000"/>
<rect x="1155" y="38" width="1" height="18" fill="#000"/>
<rect x="1154" y="39" width="3" height="6" fill="#000"/>
<rect x="1155" y="40" width="1" height="4" fill="#fff"/>
<rect x="1159" y="46" width="1" height="6" fill="#000"/>
<rect x="1158" y="48" width="3" height="3" fill="#000"/>
<rect x="1163" y="49" width="1" height="11" fill="#000"/>
<rect x="1162" y="50" width="3" height="9" fill="#000"/>
<rect x="1167" y="53" width="1" height="19" fill="#000"/>
<rect x="1166" y="57" width="3" height="8" fill="#000"/>
<rect x="1171" y="54" width="1" height="27" fill="#000"/>
<rect x="1170" y="63" width="3" height="16" fill="#000"/>
<rect x="1175" y="61" width="1" height="29" fill="#000"/>
<rect x="1174" y="63" width="3" height="16" fill="#000"/>
<rect x="1175" y="64" width="1" height="14" fill="#fff"/>
<rect x="1179" y="60" width="1" height="10" fill="#000"/>
<rect x="1178" y="62" width="3" height="3" fill="#000"/>
<rect x="1183" y="56" width="1" height="9" fill="#000"/>
<rect x="1182" y="57" width="3" height="3" fill="#000"/>
<rect x="1187" y="57" width="1" height="6" fill="#000"/>
<rect x="1186" y="58" width="3" height="2" fill="#000"/>
<rect x="1191" y="53" width="1" height="14" fill="#000"/>
<rect x="1190" y="59" width="3" height="6" fill="#000"/>
<rect x="1195" y="60" width="1" height="15" fill="#000"/>
<rect x="1194" y="63" width="3" height="11" fill="#000"/>
<rect x="1199" y="61" width="1" height="22" fill="#000"/>
<rect x="1198" y="71" width="3" height="3" fill="#000"/>
<rect x="1203" y="66" width="1" height="10" fill="#000"/>
<rect x="1202" y="67" width="3" height="8" fill="#000"/>
<rect x="1203" y="68" width="1" height="6" fill="#fff"/>
<rect x="1207" y="66" width="1" height="7" fill="#000"/>
<rect x="1206" y="67" width="3" height="5" fill="#000"/>
<rect x="1207" y="68" width="1" height="3" fill="#fff"/>
<rect x="1211" y="64" width="1" height="6" fill="#000"/>
<rect x="1210" y="66" width="3" height="1" fill="#000"/>
<rect x="1215" y="61" width="1" height="15" fill="#000"/>
<rect x="1214" y="66" width="3" height="1" fill="#000"/>
<rect x="1219" y="64" width="1" height="16" fill="#000"/>
<rect x="1218" y="66" width="3" height="1" fill="#000"/>
<rect x="1223" y="57" width="1" height="13" fill="#000"/>
<rect x="1222" y="61" width="3" height="8" fill="#000"/>
<rect x="1223" y="62" width="1" height="6" fill="#fff"/>
<rect x="1227" y="59" width="1" height="9" fill="#000"/>
<rect x="1226" y="62" width="3" height="5" fill="#000"/>
<rect x="1231" y="54" width="1" height="5" fill="#000"/>
<rect x="1230" y="55" width="3" height="3" fill="#000"/>
<rect x="1235" y="51" width="1" height="12" fill="#000"/>
<rect x="1234" y="55" width="3" height="1" fill="#000"/>
<rect x="1239" y="48" width="1" height="14" fill="#000"/>
<rect x="1238" y="51" width="3" height="7" fill="#000"/>
<rect x="1239" y="52" width="1" height="5" fill="#fff"/>
<rect x="1243" y="49" width="1" height="17" fill="#000"/>
<rect x="1242" y="50" width="3" height="9" fill="#000"/>
<rect x="1247" y="51" width="1" height="11" fill="#000"/>
<rect x="1246" y="55" width="3" height="4" fill="#000"/>
<rect x="1247" y="56" width="1" height="2" fill="#fff"/>
<rect x="1251" y="54" width="1" height="8" fill="#000"/>
<rect x="1250" y="56" width="3" height="6" fill="#000"/>
<rect x="1255" y="60" width="1" height="8" fill="#000"/>
<rect x="1254" y="62" width="3" height="4" fill="#000"/>
<rect x="1259" y="61" width="1" height="16" fill="#000"/>
<rect x="1258" y="65" width="3" height="11" fill="#000"/>
<rect x="1263" y="61" width="1" height="16" fill="#000"/>
<rect x="1262" y="64" width="3" height="12" fill="#000"/>
<rect x="1263" y="65" width="1" height="10" fill="#fff"/>
<rect x="1267" y="63" width="1" height="23" fill="#000"/>
<rect x="1266" y="64" width="3" height="19" fill="#000"/>
<rect x="1271" y="82" width="1" height="33" fill="#000"/>
<rect x="1270" y="82" width="3" height="10" fill="#000"/>
<rect x="1275" y="88" width="1" height="10" fill="#000"/>
<rect x="1274" y="92" width="3" height="6" fill="#000"/>
<rect x="1279" y="97" width="1" height="6" fill="#000"/>
<rect x="1278" y="99" width="3" height="1" fill="#000"/>
<rect x="1283" y="97" width="1" height="7" fill="#000"/>
<rect x="1282" y="99" width="3" height="1" fill="#000"/>
<rect x="1287" y="89" width="1" height="22" fill="#000"/>
<rect x="1286" y="95" width="3" height="4" fill="#000"/>
<rect x="1287" y="96" width="1" height="2" fill="#fff"/>
<rect x="1291" y="83" width="1" height="16" fill="#000"/>
<rect x="1290" y="85" width="3" height="11" fill="#000"/>
<rect x="1291" y="86" width="1" height="9" fill="#fff"/>
<rect x="1295" y="79" width="1" height="11" fill="#000"/>
<rect x="1294" y="80" width="3" height="6" fill="#000"/>
<rect x="1295" y="81" width="1" height="4" fill="#fff"/>
<rect x="1299" y="69" width="1" height="14" fill="#000"/>
<rect x="1298" y="74" width="3" height="8" fill="#000"/>
<rect x="1299" y="75" width="1" height="6" fill="#fff"/>
<rect x="1303" y="66" width="1" height="5" fill="#000"/>
<rect x="1302" y="67" width="3" height="3" fill="#000"/>
<rect x="1307" y="61" width="1" height="10" fill="#000"/>
<rect x="1306" y="67" width="3" height="1" fill="#000"/>
<rect x="1311" y="62" width="1" height="20" fill="#000"/>
<rect x="1310" y="67" width="3" height="6" fill="#000"/>
<rect x="1315" y="69" width="1" height="11" fill="#000"/>
<rect x="1314" y="72" width="3" height="4" fill="#000"/>
<rect x="1319" y="74" width="1" height="16" fill="#000"/>
<rect x="1318" y="75" width="3" height="6" fill="#000"/>
<rect x="1323" y="78" width="1" height="5" fill="#000"/>
<rect x="1322" y="80" width="3" height="1" fill="#000"/>
<rect x="1327" y="82" width="1" height="6" fill="#000"/>
<rect x="1326" y="83" width="3" height="3" fill="#000"/>
<rect x="1331" y="81" width="1" height="11" fill="#000"/>
<rect x="1330" y="83" width="3" height="6" fill="#000"/>
<rect x="1335" y="64" width="1" height="26" fill="#000"/>
<rect x="1334" y="72" width="3" height="17" fill="#000"/>
<rect x="1335" y="73" width="1" height="15" fill="#fff"/>
<rect x="1339" y="67" width="1" height="13" fill="#000"/>
<rect x="1338" y="68" width="3" height="5" fill="#000"/>
<rect x="1339" y="69" width="1" height="3" fill="#fff"/>
<rect x="1343" y="62" width="1" height="12" fill="#000"/>
<rect x="1342" y="68" width="3" height="1" fill="#000"/>
<rect x="1347" y="60" width="1" height="9" fill="#000"/>
<rect x="1346" y="61" width="3" height="8" fill="#000"/>
<rect x="1347" y="62" width="1" height="6" fill="#fff"/>
<rect x="1351" y="60" width="1" height="3" fill="#000"/>
<rect x="1350" y="61" width="3" height="2" fill="#000"/>
<rect x="1355" y="58" width="1" height="6" fill="#000"/>
<rect x="1354" y="60" width="3" height="3" fill="#000"/>
<rect x="1359" y="48" width="1" height="17" fill="#000"/>
<rect x="1358" y="59" width="3" height="1" fill="#000"/>
<rect x="1363" y="54" width="1" height="18" fill="#000"/>
<rect x="1362" y="60" width="3" height="7" fill="#000"/>
<rect x="1367" y="62" width="1" height="16" fill="#000"/>
<rect x="1366" y="65" width="3" height="11" fill="#000"/>
<rect x="1371" y="63" width="1" height="13" fill="#000"/>
<rect x="1370" y="64" width="3" height="12" fill="#000"/>
<rect x="1371" y="65" width="1" height="10" fill="#fff"/>
<rect x="1375" y="68" width="1" height="3" fill="#000"/>
<rect x="1374" y="68" width="3" height="3" fill="#000"/>
<rect x="1375" y="69" width="1" height="1" fill="#fff"/>
<rect x="1379" y="68" width="1" height="8" fill="#000"/>
<rect x="1378" y="68" width="3" height="6" fill="#000"/>
<rect x="1383" y="72" width="1" height="27" fill="#000"/>
<rect x="1382" y="72" width="3" height="23" fill="#000"/>
<rect x="1387" y="80" width="1" height="22" fill="#000"/>
<rect x="1386" y="82" width="3" height="13" fill="#000"/>
<rect x="1387" y="83" width="1" height="11" fill="#fff"/>
<rect x="1391" y="71" width="1" height="13" fill="#000"/>
<rect x="1390" y="74" width="3" height="9" fill="#000"/>
<rect x="1391" y="75" width="1" height="7" fill="#fff"/>
<rect x="1395" y="71" width="1" height="8" fill="#000"/>
<rect x="1394" y="74" width="3" height="1" fill="#000"/>
<rect x="1399" y="68" width="1" height="5" fill="#000"/>
<rect x="1398" y="69" width="3" height="4" fill="#000"/>
<rect x="1403" y="67" width="1" height="6" fill="#000"/>
<rect x="1402" y="68" width="3" height="4" fill="#000"/>
<rect x="1403" y="69" width="1" height="2" fill="#fff"/>
<rect x="1407" y="61" width="1" height="21" fill="#000"/>
<rect x="1406" y="69" width="3" height="12" fill="#000"/>
<rect x="1411" y="78" width="1" height="49" fill="#000"/>
<rect x="1410" y="79" width="3" height="36" fill="#000"/>
<rect x="1415" y="99" width="1" height="29" fill="#000"/>
<rect x="1414" y="110" width="3" height="5" fill="#000"/>
<rect x="1415" y="111" width="1" height="3" fill="#fff"/>
<rect x="1419" y="104" width="1" height="11" fill="#000"/>
<rect x="1418" y="104" width="3" height="8" fill="#000"/>
<rect x="1419" y="105" width="1" height="6" fill="#fff"/>
<rect x="1423" y="113" width="1" height="4" fill="#000"/>
<rect x="1422" y="114" width="3" height="3" fill="#000"/>
<rect x="1427" y="112" width="1" height="11" fill="#000"/>
<rect x="1426" y="114" width="3" height="9" fill="#000"/>
<rect x="1431" y="79" width="1" height="50" fill="#000"/>
<rect x="1430" y="84" width="3" height="38" fill="#000"/>
<rect x="1431" y="85" width="1" height="36" fill="#fff"/>
<rect x="1435" y="66" width="1" height="23" fill="#000"/>
<rect x="1434" y="71" width="3" height="14" fill="#000"/>
<rect x="1435" y="72" width="1" height="12" fill="#fff"/>
<rect x="1439" y="67" width="1" height="15" fill="#000"/>
<rect x="1438" y="71" width="3" height="7" fill="#000"/>
<rect x="1443" y="71" width="1" height="7" fill="#000"/>
<rect x="1442" y="74" width="3" height="3" fill="#000"/>
<rect x="1443" y="75" width="1" height="1" fill="#fff"/>
<rect x="1447" y="74" width="1" height="9" fill="#000"/>
<rect x="1446" y="77" width="3" height="5" fill="#000"/>
<rect x="1451" y="77" width="1" height="8" fill="#000"/>
<rect x="1450" y="78" width="3" height="3" fill="#000"/>
<rect x="1451" y="79" width="1" height="1" fill="#fff"/>
<rect x="1455" y="75" width="1" height="18" fill="#000"/>
<rect x="1454" y="77" width="3" height="9" fill="#000"/>
<rect x="1459" y="84" width="1" height="48" fill="#000"/>
<rect x="1458" y="85" width="3" height="44" fill="#000"/>
<rect x="1463" y="111" width="1" height="38" fill="#000"/>
<rect x="1462" y="115" width="3" height="14" fill="#000"/>
<rect x="1463" y="116" width="1" height="12" fill="#fff"/>
<rect x="1467" y="114" width="1" height="29" fill="#000"/>
<rect x="1466" y="114" width="3" height="24" fill="#000"/>
<rect x="1471" y="127" width="1" height="8" fill="#000"/>
<rect x="1470" y="128" width="3" height="4" fill="#000"/>
<rect x="1471" y="129" width="1" height="2" fill="#fff"/>
<rect x="1475" y="127" width="1" height="12" fill="#000"/>
<rect x="1474" y="128" width="3" height="11" fill="#000"/>
<rect x="1479" y="137" width="1" height="43" fill="#000"/>
<rect x="1478" y="137" width="3" height="25" fill="#000"/>
<rect x="1483" y="122" width="1" height="43" fill="#000"/>
<rect x="1482" y="123" width="3" height="39" fill="#000"/>
<rect x="1483" y="124" width="1" height="37" fill="#fff"/>
<rect x="1487" y="107" width="1" height="23" fill="#000"/>
<rect x="1486" y="109" width="3" height="16" fill="#000"/>
<rect x="1487" y="110" width="1" height="14" fill="#fff"/>
<rect x="1491" y="104" width="1" height="12" fill="#000"/>
<rect x="1490" y="109" width="3" height="7" fill="#000"/>
<line x1="1359.5" y1="48.5" x2="1502" y2="81.5" stroke="#ff0000" stroke-width="1"/>
<rect x="1357.5" y="46.5" width="4" height="4" fill="#fff" stroke="#ff0000" stroke-width="1"/>
<rect x="1423.5" y="61.5" width="4" height="4" fill="#fff" stroke="#ff0000" stroke-width="1"/>
<rect x="1489.5" y="77.5" width="4" height="4" fill="#fff" stroke="#ff0000" stroke-width="1"/>
<rect x="3" y="684" width="1" height="109" fill="#000080"/>
<rect x="7" y="684" width="1" height="120" fill="#000080"/>
<rect x="11" y="684" width="1" height="128" fill="#000080"/>
<rect x="15" y="684" width="1" height="129" fill="#000080"/>
<rect x="19" y="684" width="1" height="130" fill="#000080"/>
<rect x="23" y="684" width="1" height="129" fill="#000080"/>
<rect x="27" y="684" width="1" height="127" fill="#000080"/>
<rect x="31" y="684" width="1" height="124" fill="#000080"/>
<rect x="35" y="684" width="1" height="121" fill="#000080"/>
<rect x="39" y="684" width="1" height="117" fill="#000080"/>
<rect x="43" y="684" width="1" height="112" fill="#000080"/>
<rect x="47" y="684" width="1" height="106" fill="#000080"/>
<rect x="51" y="684" width="1" height="101" fill="#000080"/>
<rect x="55" y="684" width="1" height="95" fill="#000080"/>
<rect x="59" y="684" width="1" height="86" fill="#000080"/>
<rect x="63" y="684" width="1" height="76" fill="#000080"/>
<rect x="67" y="684" width="1" height="65" fill="#000080"/>
<rect x="71" y="684" width="1" height="57" fill="#000080"/>
<rect x="75" y="684" width="1" height="49" fill="#000080"/>
<rect x="79" y="684" width="1" height="38" fill="#000080"/>
<rect x="83" y="684" width="1" height="28" fill="#000080"/>
<rect x="87" y="684" width="1" height="16" fill="#000080"/>
<rect x="91" y="684" width="1" height="5" fill="#000080"/>
<rect x="95" y="684" width="1" height="1" fill="#000080"/>
<rect x="99" y="671" width="1" height="14" fill="#000080"/>
<rect x="103" y="663" width="1" height="22" fill="#000080"/>
<rect x="107" y="659" width="1" height="26" fill="#000080"/>
<rect x="111" y="654" width="1" height="31" fill="#000080"/>
<rect x="115" y="648" width="1" height="37" fill="#000080"/>
<rect x="119" y="640" width="1" height="45" fill="#000080"/>
<rect x="123" y="635" width="1" height="50" fill="#000080"/>
<rect x="127" y="631" width="1" height="54" fill="#000080"/>
<rect x="131" y="626" width="1" height="59" fill="#000080"/>
<rect x="135" y="620" width="1" height="65" fill="#000080"/>
<rect x="139" y="614" width="1" height="71" fill="#000080"/>
<rect x="143" y="609" width="1" height="76" fill="#000080"/>
<rect x="147" y="606" width="1" height="79" fill="#000080"/>
<rect x="151" y="605" width="1" height="80" fill="#000080"/>
<rect x="155" y="606" width="1" height="79" fill="#000080"/>
<rect x="159" y="610" width="1" height="75" fill="#000080"/>
<rect x="163" y="612" width="1" height="73" fill="#000080"/>
<rect x="167" y="613" width="1" height="72" fill="#000080"/>
<rect x="171" y="614" width="1" height="71" fill="#000080"/>
<rect x="175" y="613" width="1" height="72" fill="#000080"/>
<rect x="179" y="610" width="1" height="75" fill="#000080"/>
<rect x="183" y="608" width="1" height="77" fill="#000080"/>
<rect x="187" y="595" width="1" height="90" fill="#000080"/>
<rect x="191" y="579" width="1" height="106" fill="#000080"/>
<rect x="195" y="573" width="1" height="112" fill="#000080"/>
<rect x="199" y="572" width="1" height="113" fill="#000080"/>
<rect x="203" y="573" width="1" height="112" fill="#000080"/>
<rect x="207" y="573" width="1" height="112" fill="#000080"/>
<rect x="211" y="571" width="1" height="114" fill="#000080"/>
<rect x="215" y="569" width="1" height="116" fill="#000080"/>
<rect x="219" y="569" width="1" height="116" fill="#000080"/>
<rect x="223" y="571" width="1" height="114" fill="#000080"/>
<rect x="227" y="572" width="1" height="113" fill="#000080"/>
<rect x="231" y="573" width="1" height="112" fill="#000080"/>
<rect x="235" y="575" width="1" height="110" fill="#000080"/>
<rect x="239" y="577" width="1" height="108" fill="#000080"/>
<rect x="243" y="581" width="1" height="104" fill="#000080"/>
<rect x="247" y="586" width="1" height="99" fill="#000080"/>
<rect x="251" y="591" width="1" height="94" fill="#000080"/>
<rect x="255" y="597" width="1" height="88" fill="#000080"/>
<rect x="259" y="607" width="1" height="78" fill="#000080"/>
<rect x="263" y="617" width="1" height="68" fill="#000080"/>
<rect x="267" y="627" width="1" height="58" fill="#000080"/>
<rect x="271" y="636" width="1" height="49" fill="#000080"/>
<rect x="275" y="644" width="1" height="41" fill="#000080"/>
<rect x="279" y="646" width="1" height="39" fill="#000080"/>
<rect x="283" y="647" width="1" height="38" fill="#000080"/>
<rect x="287" y="648" width="1" height="37" fill="#000080"/>
<rect x="291" y="649" width="1" height="36" fill="#000080"/>
<rect x="295" y="649" width="1" height="36" fill="#000080"/>
<rect x="299" y="647" width="1" height="38" fill="#000080"/>
<rect x="303" y="645" width="1" height="40" fill="#000080"/>
<rect x="307" y="648" width="1" height="37" fill="#000080"/>
<rect x="311" y="650" width="1" height="35" fill="#000080"/>
<rect x="315" y="653" width="1" height="32" fill="#000080"/>
<rect x="319" y="656" width="1" height="29" fill="#000080"/>
<rect x="323" y="659" width="1" height="26" fill="#000080"/>
<rect x="327" y="661" width="1" height="24" fill="#000080"/>
<rect x="331" y="664" width="1" height="21" fill="#000080"/>
<rect x="335" y="665" width="1" height="20" fill="#000080"/>
<rect x="339" y="665" width="1" height="20" fill="#000080"/>
<rect x="343" y="667" width="1" height="18" fill="#000080"/>
<rect x="347" y="669" width="1" height="16" fill="#000080"/>
<rect x="351" y="670" width="1" height="15" fill="#000080"/>
<rect x="355" y="668" width="1" height="17" fill="#000080"/>
<rect x="359" y="668" width="1" height="17" fill="#000080"/>
<rect x="363" y="671" width="1" height="14" fill="#000080"/>
<rect x="367" y="673" width="1" height="12" fill="#000080"/>
<rect x="371" y="675" width="1" height="10" fill="#000080"/>
<rect x="375" y="677" width="1" height="8" fill="#000080"/>
<rect x="379" y="678" width="1" height="7" fill="#000080"/>
<rect x="383" y="679" width="1" height="6" fill="#000080"/>
<rect x="387" y="679" width="1" height="6" fill="#000080"/>
<rect x="391" y="680" width="1" height="5" fill="#000080"/>
<rect x="395" y="681" width="1" height="4" fill="#000080"/>
<rect x="399" y="681" width="1" height="4" fill="#000080"/>
<rect x="403" y="681" width="1" height="4" fill="#000080"/>
<rect x="407" y="681" width="1" height="4" fill="#000080"/>
<rect x="411" y="680" width="1" height="5" fill="#000080"/>
<rect x="415" y="679" width="1" height="6" fill="#000080"/>
<rect x="419" y="676" width="1" height="9" fill="#000080"/>
<rect x="423" y="673" width="1" height="12" fill="#000080"/>
<rect x="427" y="672" width="1" height="13" fill="#000080"/>
<rect x="431" y="672" width="1" height="13" fill="#000080"/>
<rect x="435" y="672" width="1" height="13" fill="#000080"/>
<rect x="439" y="671" width="1" height="14" fill="#000080"/>
<rect x="443" y="670" width="1" height="15" fill="#000080"/>
<rect x="447" y="668" width="1" height="17" fill="#000080"/>
<rect x="451" y="666" width="1" height="19" fill="#000080"/>
<rect x="455" y="664" width="1" height="21" fill="#000080"/>
<rect x="459" y="662" width="1" height="23" fill="#000080"/>
<rect x="463" y="659" width="1" height="26" fill="#000080"/>
<rect x="467" y="660" width="1" height="25" fill="#000080"/>
<rect x="471" y="661" width="1" height="24" fill="#000080"/>
<rect x="475" y="662" width="1" height="23" fill="#000080"/>
<rect x="479" y="663" width="1" height="22" fill="#000080"/>
<rect x="483" y="663" width="1" height="22" fill="#000080"/>
<rect x="487" y="663" width="1" height="22" fill="#000080"/>
<rect x="491" y="664" width="1" height="21" fill="#000080"/>
<rect x="495" y="665" width="1" height="20" fill="#000080"/>
<rect x="499" y="667" width="1" height="18" fill="#000080"/>
<rect x="503" y="668" width="1" height="17" fill="#000080"/>
<rect x="507" y="669" width="1" height="16" fill="#000080"/>
<rect x="511" y="671" width="1" height="14" fill="#000080"/>
<rect x="515" y="671" width="1" height="14" fill="#000080"/>
<rect x="519" y="671" width="1" height="14" fill="#000080"/>
<rect x="523" y="671" width="1" height="14" fill="#000080"/>
<rect x="527" y="670" width="1" height="15" fill="#000080"/>
<rect x="531" y="669" width="1" height="16" fill="#000080"/>
<rect x="535" y="670" width="1" height="15" fill="#000080"/>
<rect x="539" y="671" width="1" height="14" fill="#000080"/>
<rect x="543" y="670" width="1" height="15" fill="#000080"/>
<rect x="547" y="669" width="1" height="16" fill="#000080"/>
<rect x="551" y="669" width="1" height="16" fill="#000080"/>
<rect x="555" y="670" width="1" height="15" fill="#000080"/>
<rect x="559" y="670" width="1" height="15" fill="#000080"/>
<rect x="563" y="669" width="1" height="16" fill="#000080"/>
<rect x="567" y="668" width="1" height="17" fill="#000080"/>
<rect x="571" y="667" width="1" height="18" fill="#000080"/>
<rect x="575" y="667" width="1" height="18" fill="#000080"/>
<rect x="579" y="668" width="1" height="17" fill="#000080"/>
<rect x="583" y="670" width="1" height="15" fill="#000080"/>
<rect x="587" y="672" width="1" height="13" fill="#000080"/>
<rect x="591" y="675" width="1" height="10" fill="#000080"/>
<rect x="595" y="677" width="1" height="8" fill="#000080"/>
<rect x="599" y="679" width="1" height="6" fill="#000080"/>
<rect x="603" y="681" width="1" height="4" fill="#000080"/>
<rect x="607" y="683" width="1" height="2" fill="#000080"/>
<rect x="611" y="684" width="1" height="2" fill="#000080"/>
<rect x="615" y="684" width="1" height="3" fill="#000080"/>
<rect x="619" y="684" width="1" height="4" fill="#000080"/>
<rect x="623" y="684" width="1" height="7" fill="#000080"/>
<rect x="627" y="684" width="1" height="10" fill="#000080"/>
<rect x="631" y="684" width="1" height="11" fill="#000080"/>
<rect x="635" y="684" width="1" height="12" fill="#000080"/>
<rect x="639" y="684" width="1" height="10" fill="#000080"/>
<rect x="643" y="684" width="1" height="9" fill="#000080"/>
<rect x="647" y="684" width="1" height="9" fill="#000080"/>
<rect x="651" y="684" width="1" height="8" fill="#000080"/>
<rect x="655" y="684" width="1" height="8" fill="#000080"/>
<rect x="659" y="684" width="1" height="7" fill="#000080"/>
<rect x="663" y="684" width="1" height="7" fill="#000080"/>
<rect x="667" y="684" width="1" height="7" fill="#000080"/>
<rect x="671" y="684" width="1" height="7" fill="#000080"/>
<rect x="675" y="684" width="1" height="6" fill="#000080"/>
<rect x="679" y="684" width="1" height="6" fill="#000080"/>
<rect x="683" y="684" width="1" height="6" fill="#000080"/>
<rect x="687" y="684" width="1" height="5" fill="#000080"/>
<rect x="691" y="684" width="1" height="4" fill="#000080"/>
<rect x="695" y="684" width="1" height="3" fill="#000080"/>
<rect x="699" y="684" width="1" height="2" fill="#000080"/>
<rect x="703" y="683" width="1" height="2" fill="#000080"/>
<rect x="707" y="681" width="1" height="4" fill="#000080"/>
<rect x="711" y="678" width="1" height="7" fill="#000080"/>
<rect x="715" y="676" width="1" height="9" fill="#000080"/>
<rect x="719" y="675" width="1" height="10" fill="#000080"/>
<rect x="723" y="675" width="1" height="10" fill="#000080"/>
<rect x="727" y="675" width="1" height="10" fill="#000080"/>
<rect x="731" y="676" width="1" height="9" fill="#000080"/>
<rect x="735" y="677" width="1" height="8" fill="#000080"/>
<rect x="739" y="679" width="1" height="6" fill="#000080"/>
<rect x="743" y="681" width="1" height="4" fill="#000080"/>
<rect x="747" y="682" width="1" height="3" fill="#000080"/>
<rect x="751" y="682" width="1" height="3" fill="#000080"/>
<rect x="755" y="683" width="1" height="2" fill="#000080"/>
<rect x="759" y="684" width="1" height="2" fill="#000080"/>
<rect x="763" y="684" width="1" height="7" fill="#000080"/>
<rect x="767" y="684" width="1" height="13" fill="#000080"/>
<rect x="771" y="684" width="1" height="17" fill="#000080"/>
<rect x="775" y="684" width="1" height="18" fill="#000080"/>
<rect x="779" y="684" width="1" height="18" fill="#000080"/>
<rect x="783" y="684" width="1" height="16" fill="#000080"/>
<rect x="787" y="684" width="1" height="13" fill="#000080"/>
<rect x="791" y="684" width="1" height="12" fill="#000080"/>
<rect x="795" y="684" width="1" height="11" fill="#000080"/>
<rect x="799" y="684" width="1" height="10" fill="#000080"/>
<rect x="803" y="684" width="1" height="10" fill="#000080"/>
<rect x="807" y="684" width="1" height="4" fill="#000080"/>
<rect x="811" y="681" width="1" height="4" fill="#000080"/>
<rect x="815" y="677" width="1" height="8" fill="#000080"/>
<rect x="819" y="674" width="1" height="11" fill="#000080"/>
<rect x="823" y="671" width="1" height="14" fill="#000080"/>
<rect x="827" y="669" width="1" height="16" fill="#000080"/>
<rect x="831" y="663" width="1" height="22" fill="#000080"/>
<rect x="835" y="657" width="1" height="28" fill="#000080"/>
<rect x="839" y="652" width="1" height="33" fill="#000080"/>
<rect x="843" y="648" width="1" height="37" fill="#000080"/>
<rect x="847" y="646" width="1" height="39" fill="#000080"/>
<rect x="851" y="643" width="1" height="42" fill="#000080"/>
<rect x="855" y="640" width="1" height="45" fill="#000080"/>
<rect x="859" y="638" width="1" height="47" fill="#000080"/>
<rect x="863" y="636" width="1" height="49" fill="#000080"/>
<rect x="867" y="634" width="1" height="51" fill="#000080"/>
<rect x="871" y="635" width="1" height="50" fill="#000080"/>
<rect x="875" y="637" width="1" height="48" fill="#000080"/>
<rect x="879" y="638" width="1" height="47" fill="#000080"/>
<rect x="883" y="640" width="1" height="45" fill="#000080"/>
<rect x="887" y="641" width="1" height="44" fill="#000080"/>
<rect x="891" y="644" width="1" height="41" fill="#000080"/>
<rect x="895" y="651" width="1" height="34" fill="#000080"/>
<rect x="899" y="659" width="1" height="26" fill="#000080"/>
<rect x="903" y="672" width="1" height="13" fill="#000080"/>
<rect x="907" y="684" width="1" height="2" fill="#000080"/>
<rect x="911" y="684" width="1" height="9" fill="#000080"/>
<rect x="915" y="684" width="1" height="11" fill="#000080"/>
<rect x="919" y="684" width="1" height="16" fill="#000080"/>
<rect x="923" y="684" width="1" height="21" fill="#000080"/>
<rect x="927" y="684" width="1" height="21" fill="#000080"/>
<rect x="931" y="684" width="1" height="20" fill="#000080"/>
<rect x="935" y="684" width="1" height="19" fill="#000080"/>
<rect x="939" y="684" width="1" height="17" fill="#000080"/>
<rect x="943" y="684" width="1" height="16" fill="#000080"/>
<rect x="947" y="684" width="1" height="16" fill="#000080"/>
<rect x="951" y="684" width="1" height="11" fill="#000080"/>
<rect x="955" y="684" width="1" height="6" fill="#000080"/>
<rect x="959" y="683" width="1" height="2" fill="#000080"/>
<rect x="963" y="677" width="1" height="8" fill="#000080"/>
<rect x="967" y="672" width="1" height="13" fill="#000080"/>
<rect x="971" y="666" width="1" height="19" fill="#000080"/>
<rect x="975" y="658" width="1" height="27" fill="#000080"/>
<rect x="979" y="652" width="1" height="33" fill="#000080"/>
<rect x="983" y="648" width="1" height="37" fill="#000080"/>
<rect x="987" y="644" width="1" height="41" fill="#000080"/>
<rect x="991" y="640" width="1" height="45" fill="#000080"/>
<rect x="995" y="637" width="1" height="48" fill="#000080"/>
<rect x="999" y="635" width="1" height="50" fill="#000080"/>
<rect x="1003" y="636" width="1" height="49" fill="#000080"/>
<rect x="1007" y="639" width="1" height="46" fill="#000080"/>
<rect x="1011" y="643" width="1" height="42" fill="#000080"/>
<rect x="1015" y="646" width="1" height="39" fill="#000080"/>
<rect x="1019" y="649" width="1" height="36" fill="#000080"/>
<rect x="1023" y="652" width="1" height="33" fill="#000080"/>
<rect x="1027" y="656" width="1" height="29" fill="#000080"/>
<rect x="1031" y="658" width="1" height="27" fill="#000080"/>
<rect x="1035" y="661" width="1" height="24" fill="#000080"/>
<rect x="1039" y="664" width="1" height="21" fill="#000080"/>
<rect x="1043" y="664" width="1" height="21" fill="#000080"/>
<rect x="1047" y="661" width="1" height="24" fill="#000080"/>
<rect x="1051" y="658" width="1" height="27" fill="#000080"/>
<rect x="1055" y="663" width="1" height="22" fill="#000080"/>
<rect x="1059" y="667" width="1" height="18" fill="#000080"/>
<rect x="1063" y="670" width="1" height="15" fill="#000080"/>
<rect x="1067" y="673" width="1" height="12" fill="#000080"/>
<rect x="1071" y="676" width="1" height="9" fill="#000080"/>
<rect x="1075" y="680" width="1" height="5" fill="#000080"/>
<rect x="1079" y="681" width="1" height="4" fill="#000080"/>
<rect x="1083" y="682" width="1" height="3" fill="#000080"/>
<rect x="1087" y="683" width="1" height="2" fill="#000080"/>
<rect x="1091" y="682" width="1" height="3" fill="#000080"/>
<rect x="1095" y="681" width="1" height="4" fill="#000080"/>
<rect x="1099" y="679" width="1" height="6" fill="#000080"/>
<rect x="1103" y="672" width="1" height="13" fill="#000080"/>
<rect x="1107" y="667" width="1" height="18" fill="#000080"/>
<rect x="1111" y="662" width="1" height="23" fill="#000080"/>
<rect x="1115" y="658" width="1" height="27" fill="#000080"/>
<rect x="1119" y="655" width="1" height="30" fill="#000080"/>
<rect x="1123" y="652" width="1" height="33" fill="#000080"/>
<rect x="1127" y="649" width="1" height="36" fill="#000080"/>
<rect x="1131" y="647" width="1" height="38" fill="#000080"/>
<rect x="1135" y="644" width="1" height="41" fill="#000080"/>
<rect x="1139" y="641" width="1" height="44" fill="#000080"/>
<rect x="1143" y="640" width="1" height="45" fill="#000080"/>
<rect x="1147" y="640" width="1" height="45" fill="#000080"/>
<rect x="1151" y="639" width="1" height="46" fill="#000080"/>
<rect x="1155" y="640" width="1" height="45" fill="#000080"/>
<rect x="1159" y="642" width="1" height="43" fill="#000080"/>
<rect x="1163" y="646" width="1" height="39" fill="#000080"/>
<rect x="1167" y="653" width="1" height="32" fill="#000080"/>
<rect x="1171" y="658" width="1" height="27" fill="#000080"/>
<rect x="1175" y="661" width="1" height="24" fill="#000080"/>
<rect x="1179" y="663" width="1" height="22" fill="#000080"/>
<rect x="1183" y="664" width="1" height="21" fill="#000080"/>
<rect x="1187" y="666" width="1" height="19" fill="#000080"/>
<rect x="1191" y="669" width="1" height="16" fill="#000080"/>
<rect x="1195" y="672" width="1" height="13" fill="#000080"/>
<rect x="1199" y="675" width="1" height="10" fill="#000080"/>
<rect x="1203" y="677" width="1" height="8" fill="#000080"/>
<rect x="1207" y="678" width="1" height="7" fill="#000080"/>
<rect x="1211" y="678" width="1" height="7" fill="#000080"/>
<rect x="1215" y="679" width="1" height="6" fill="#000080"/>
<rect x="1219" y="680" width="1" height="5" fill="#000080"/>
<rect x="1223" y="680" width="1" height="5" fill="#000080"/>
<rect x="1227" y="679" width="1" height="6" fill="#000080"/>
<rect x="1231" y="678" width="1" height="7" fill="#000080"/>
<rect x="1235" y="677" width="1" height="8" fill="#000080"/>
<rect x="1239" y="676" width="1" height="9" fill="#000080"/>
<rect x="1243" y="675" width="1" height="10" fill="#000080"/>
<rect x="1247" y="676" width="1" height="9" fill="#000080"/>
<rect x="1251" y="676" width="1" height="9" fill="#000080"/>
<rect x="1255" y="677" width="1" height="8" fill="#000080"/>
<rect x="1259" y="680" width="1" height="5" fill="#000080"/>
<rect x="1263" y="682" width="1" height="3" fill="#000080"/>
<rect x="1267" y="684" width="1" height="2" fill="#000080"/>
<rect x="1271" y="684" width="1" height="6" fill="#000080"/>
<rect x="1275" y="684" width="1" height="10" fill="#000080"/>
<rect x="1279" y="684" width="1" height="15" fill="#000080"/>
<rect x="1283" y="684" width="1" height="19" fill="#000080"/>
<rect x="1287" y="684" width="1" height="21" fill="#000080"/>
<rect x="1291" y="684" width="1" height="20" fill="#000080"/>
<rect x="1295" y="684" width="1" height="18" fill="#000080"/>
<rect x="1299" y="684" width="1" height="15" fill="#000080"/>
<rect x="1303" y="684" width="1" height="11" fill="#000080"/>
<rect x="1307" y="684" width="1" height="8" fill="#000080"/>
<rect x="1311" y="684" width="1" height="7" fill="#000080"/>
<rect x="1315" y="684" width="1" height="6" fill="#000080"/>
<rect x="1319" y="684" width="1" height="7" fill="#000080"/>
<rect x="1323" y="684" width="1" height="7" fill="#000080"/>
<rect x="1327" y="684" width="1" height="8" fill="#000080"/>
<rect x="1331" y="684" width="1" height="6" fill="#000080"/>
<rect x="1335" y="684" width="1" height="5" fill="#000080"/>
<rect x="1339" y="684" width="1" height="3" fill="#000080"/>
<rect x="1343" y="684" width="1" height="1" fill="#000080"/>
<rect x="1347" y="682" width="1" height="3" fill="#000080"/>
<rect x="1351" y="680" width="1" height="5" fill="#000080"/>
<rect x="1355" y="678" width="1" height="7" fill="#000080"/>
<rect x="1359" y="677" width="1" height="8" fill="#000080"/>
<rect x="1363" y="676" width="1" height="9" fill="#000080"/>
<rect x="1367" y="677" width="1" height="8" fill="#000080"/>
<rect x="1371" y="678" width="1" height="7" fill="#000080"/>
<rect x="1375" y="679" width="1" height="6" fill="#000080"/>
<rect x="1379" y="680" width="1" height="5" fill="#000080"/>
<rect x="1383" y="683" width="1" height="2" fill="#000080"/>
<rect x="1387" y="684" width="1" height="3" fill="#000080"/>
<rect x="1391" y="684" width="1" height="2" fill="#000080"/>
<rect x="1395" y="684" width="1" height="2" fill="#000080"/>
<rect x="1399" y="684" width="1" height="2" fill="#000080"/>
<rect x="1403" y="684" width="1" height="2" fill="#000080"/>
<rect x="1407" y="684" width="1" height="2" fill="#000080"/>
<rect x="1411" y="684" width="1" height="8" fill="#000080"/>
<rect x="1415" y="684" width="1" height="14" fill="#000080"/>
<rect x="1419" y="684" width="1" height="18" fill="#000080"/>
<rect x="1423" y="684" width="1" height="23" fill="#000080"/>
<rect x="1427" y="684" width="1" height="27" fill="#000080"/>
<rect x="1431" y="684" width="1" height="23" fill="#000080"/>
<rect x="1435" y="684" width="1" height="17" fill="#000080"/>
<rect x="1439" y="684" width="1" height="12" fill="#000080"/>
<rect x="1443" y="684" width="1" height="9" fill="#000080"/>
<rect x="1447" y="684" width="1" height="8" fill="#000080"/>
<rect x="1451" y="684" width="1" height="6" fill="#000080"/>
<rect x="1455" y="684" width="1" height="9" fill="#000080"/>
<rect x="1459" y="684" width="1" height="13" fill="#000080"/>
<rect x="1463" y="684" width="1" height="18" fill="#000080"/>
<rect x="1467" y="684" width="1" height="23" fill="#000080"/>
<rect x="1471" y="684" width="1" height="29" fill="#000080"/>
<rect x="1475" y="684" width="1" height="35" fill="#000080"/>
<rect x="1479" y="684" width="1" height="40" fill="#000080"/>
<rect x="1483" y="684" width="1" height="39" fill="#000080"/>
<rect x="1487" y="684" width="1" height="36" fill="#000080"/>
<rect x="1491" y="684" width="1" height="32" fill="#000080"/>
<polyline points="3.5,792.5 7.5,803.5 11.5,811.5 15.5,812.5 19.5,813.5 23.5,812.5 27.5,810.5 31.5,807.5 35.5,804.5 39.5,800.5 43.5,795.5 47.5,789.5 51.5,784.5 55.5,778.5 59.5,769.5 63.5,759.5 67.5,748.5 71.5,740.5 75.5,732.5 79.5,721.5 83.5,711.5 87.5,699.5 91.5,688.5 95.5,684.5 99.5,671.5 103.5,663.5 107.5,659.5 111.5,654.5 115.5,648.5 119.5,640.5 123.5,635.5 127.5,631.5 131.5,626.5 135.5,620.5 139.5,614.5 143.5,609.5 147.5,606.5 151.5,605.5 155.5,606.5 159.5,610.5 163.5,612.5 167.5,613.5 171.5,614.5 175.5,613.5 179.5,610.5 183.5,608.5 187.5,595.5 191.5,579.5 195.5,573.5 199.5,572.5 203.5,573.5 207.5,573.5 211.5,571.5 215.5,569.5 219.5,569.5 223.5,571.5 227.5,572.5 231.5,573.5 235.5,575.5 239.5,577.5 243.5,581.5 247.5,586.5 251.5,591.5 255.5,597.5 259.5,607.5 263.5,617.5 267.5,627.5 271.5,636.5 275.5,644.5 279.5,646.5 283.5,647.5 287.5,648.5 291.5,649.5 295.5,649.5 299.5,647.5 303.5,645.5 307.5,648.5 311.5,650.5 315.5,653.5 319.5,656.5 323.5,659.5 327.5,661.5 331.5,664.5 335.5,665.5 339.5,665.5 343.5,667.5 347.5,669.5 351.5,670.5 355.5,668.5 359.5,668.5 363.5,671.5 367.5,673.5 371.5,675.5 375.5,677.5 379.5,678.5 383.5,679.5 387.5,679.5 391.5,680.5 395.5,681.5 399.5,681.5 403.5,681.5 407.5,681.5 411.5,680.5 415.5,679.5 419.5,676.5 423.5,673.5 427.5,672.5 431.5,672.5 435.5,672.5 439.5,671.5 443.5,670.5 447.5,668.5 451.5,666.5 455.5,664.5 459.5,662.5 463.5,659.5 467.5,660.5 471.5,661.5 475.5,662.5 479.5,663.5 483.5,663.5 487.5,663.5 491.5,664.5 495.5,665.5 499.5,667.5 503.5,668.5 507.5,669.5 511.5,671.5 515.5,671.5 519.5,671.5 523.5,671.5 527.5,670.5 531.5,669.5 535.5,670.5 539.5,671.5 543.5,670.5 547.5,669.5 551.5,669.5 555.5,670.5 559.5,670.5 563.5,669.5 567.5,668.5 571.5,667.5 575.5,667.5 579.5,668.5 583.5,670.5 587.5,672.5 591.5,675.5 595.5,677.5 599.5,679.5 603.5,681.5 607.5,683.5 611.5,685.5 615.5,686.5 619.5,687.5 623.5,690.5 627.5,693.5 631.5,694.5 635.5,695.5 639.5,693.5 643.5,692.5 647.5,692.5 651.5,691.5 655.5,691.5 659.5,690.5 663.5,690.5 667.5,690.5 671.5,690.5 675.5,689.5 679.5,689.5 683.5,689.5 687.5,688.5 691.5,687.5 695.5,686.5 699.5,685.5 703.5,683.5 707.5,681.5 711.5,678.5 715.5,676.5 719.5,675.5 723.5,675.5 727.5,675.5 731.5,676.5 735.5,677.5 739.5,679.5 743.5,681.5 747.5,682.5 751.5,682.5 755.5,683.5 759.5,685.5 763.5,690.5 767.5,696.5 771.5,700.5 775.5,701.5 779.5,701.5 783.5,699.5 787.5,696.5 791.5,695.5 795.5,694.5 799.5,693.5 803.5,693.5 807.5,687.5 811.5,681.5 815.5,677.5 819.5,674.5 823.5,671.5 827.5,669.5 831.5,663.5 835.5,657.5 839.5,652.5 843.5,648.5 847.5,646.5 851.5,643.5 855.5,640.5 859.5,638.5 863.5,636.5 867.5,634.5 871.5,635.5 875.5,637.5 879.5,638.5 883.5,640.5 887.5,641.5 891.5,644.5 895.5,651.5 899.5,659.5 903.5,672.5 907.5,685.5 911.5,692.5 915.5,694.5 919.5,699.5 923.5,704.5 927.5,704.5 931.5,703.5 935.5,702.5 939.5,700.5 943.5,699.5 947.5,699.5 951.5,694.5 955.5,689.5 959.5,683.5 963.5,677.5 967.5,672.5 971.5,666.5 975.5,658.5 979.5,652.5 983.5,648.5 987.5,644.5 991.5,640.5 995.5,637.5 999.5,635.5 1003.5,636.5 1007.5,639.5 1011.5,643.5 1015.5,646.5 1019.5,649.5 1023.5,652.5 1027.5,656.5 1031.5,658.5 1035.5,661.5 1039.5,664.5 1043.5,664.5 1047.5,661.5 1051.5,658.5 1055.5,663.5 1059.5,667.5 1063.5,670.5 1067.5,673.5 1071.5,676.5 1075.5,680.5 1079.5,681.5 1083.5,682.5 1087.5,683.5 1091.5,682.5 1095.5,681.5 1099.5,679.5 1103.5,672.5 1107.5,667.5 1111.5,662.5 1115.5,658.5 1119.5,655.5 1123.5,652.5 1127.5,649.5 1131.5,647.5 1135.5,644.5 1139.5,641.5 1143.5,640.5 1147.5,640.5 1151.5,639.5 1155.5,640.5 1159.5,642.5 1163.5,646.5 1167.5,653.5 1171.5,658.5 1175.5,661.5 1179.5,663.5 1183.5,664.5 1187.5,666.5 1191.5,669.5 1195.5,672.5 1199.5,675.5 1203.5,677.5 1207.5,678.5 1211.5,678.5 1215.5,679.5 1219.5,680.5 1223.5,680.5 1227.5,679.5 1231.5,678.5 1235.5,677.5 1239.5,676.5 1243.5,675.5 1247.5,676.5 1251.5,676.5 1255.5,677.5 1259.5,680.5 1263.5,682.5 1267.5,685.5 1271.5,689.5 1275.5,693.5 1279.5,698.5 1283.5,702.5 1287.5,704.5 1291.5,703.5 1295.5,701.5 1299.5,698.5 1303.5,694.5 1307.5,691.5 1311.5,690.5 1315.5,689.5 1319.5,690.5 1323.5,690.5 1327.5,691.5 1331.5,689.5 1335.5,688.5 1339.5,686.5 1343.5,684.5 1347.5,682.5 1351.5,680.5 1355.5,678.5 1359.5,677.5 1363.5,676.5 1367.5,677.5 1371.5,678.5 1375.5,679.5 1379.5,680.5 1383.5,683.5 1387.5,686.5 1391.5,685.5 1395.5,685.5 1399.5,685.5 1403.5,685.5 1407.5,685.5 1411.5,691.5 1415.5,697.5 1419.5,701.5 1423.5,706.5 1427.5,710.5 1431.5,706.5 1435.5,700.5 1439.5,695.5 1443.5,692.5 1447.5,691.5 1451.5,689.5 1455.5,692.5 1459.5,696.5 1463.5,701.5 1467.5,706.5 1471.5,712.5 1475.5,718.5 1479.5,723.5 1483.5,722.5 1487.5,719.5 1491.5,715.5" fill="none" stroke="#c0c0c0" stroke-width="1"/>
<polyline points="3.5,762.5 7.5,770.5 11.5,777.5 15.5,784.5 19.5,791.5 23.5,797.5 27.5,802.5 31.5,805.5 35.5,808.5 39.5,808.5 43.5,808.5 47.5,806.5 51.5,804.5 55.5,800.5 59.5,795.5 63.5,789.5 67.5,783.5 71.5,775.5 75.5,767.5 79.5,760.5 83.5,751.5 87.5,743.5 91.5,735.5 95.5,727.5 99.5,716.5 103.5,705.5 107.5,695.5 111.5,684.5 115.5,674.5 119.5,665.5 123.5,658.5 127.5,650.5 131.5,644.5 135.5,639.5 139.5,633.5 143.5,628.5 147.5,624.5 151.5,620.5 155.5,615.5 159.5,613.5 163.5,611.5 167.5,610.5 171.5,610.5 175.5,610.5 179.5,610.5 183.5,609.5 187.5,607.5 191.5,605.5 195.5,601.5 199.5,597.5 203.5,592.5 207.5,588.5 211.5,583.5 215.5,579.5 219.5,574.5 223.5,573.5 227.5,571.5 231.5,571.5 235.5,571.5 239.5,571.5 243.5,573.5 247.5,576.5 251.5,578.5 255.5,582.5 259.5,587.5 263.5,591.5 267.5,596.5 271.5,602.5 275.5,609.5 279.5,616.5 283.5,623.5 287.5,629.5 291.5,635.5 295.5,640.5 299.5,643.5 303.5,646.5 307.5,648.5 311.5,648.5 315.5,649.5 319.5,650.5 323.5,651.5 327.5,652.5 331.5,653.5 335.5,655.5 339.5,657.5 343.5,660.5 347.5,662.5 351.5,664.5 355.5,665.5 359.5,667.5 363.5,668.5 367.5,669.5 371.5,670.5 375.5,671.5 379.5,672.5 383.5,673.5 387.5,674.5 391.5,676.5 395.5,677.5 399.5,678.5 403.5,679.5 407.5,680.5 411.5,680.5 415.5,680.5 419.5,680.5 423.5,679.5 427.5,678.5 431.5,677.5 435.5,676.5 439.5,675.5 443.5,674.5 447.5,672.5 451.5,671.5 455.5,669.5 459.5,668.5 463.5,667.5 467.5,665.5 471.5,664.5 475.5,663.5 479.5,662.5 483.5,662.5 487.5,662.5 491.5,662.5 495.5,662.5 499.5,662.5 503.5,663.5 507.5,664.5 511.5,664.5 515.5,666.5 519.5,667.5 523.5,668.5 527.5,669.5 531.5,670.5 535.5,670.5 539.5,670.5 543.5,670.5 547.5,670.5 551.5,670.5 555.5,670.5 559.5,670.5 563.5,670.5 567.5,669.5 571.5,669.5 575.5,668.5 579.5,668.5 583.5,669.5 587.5,669.5 591.5,669.5 595.5,669.5 599.5,671.5 603.5,673.5 607.5,675.5 611.5,676.5 615.5,679.5 619.5,681.5 623.5,683.5 627.5,685.5 631.5,687.5 635.5,688.5 639.5,690.5 643.5,691.5 647.5,692.5 651.5,693.5 655.5,693.5 659.5,692.5 663.5,692.5 667.5,692.5 671.5,691.5 675.5,691.5 679.5,691.5 683.5,691.5 687.5,690.5 691.5,690.5 695.5,689.5 699.5,688.5 703.5,688.5 707.5,686.5 711.5,685.5 715.5,683.5 719.5,682.5 723.5,680.5 727.5,679.5 731.5,678.5 735.5,677.5 739.5,677.5 743.5,677.5 747.5,677.5 751.5,677.5 755.5,679.5 759.5,680.5 763.5,681.5 767.5,684.5 771.5,687.5 775.5,689.5 779.5,691.5 783.5,694.5 787.5,696.5 791.5,698.5 795.5,698.5 799.5,698.5 803.5,698.5 807.5,696.5 811.5,694.5 815.5,692.5 819.5,690.5 823.5,687.5 827.5,684.5 831.5,680.5 835.5,675.5 839.5,670.5 843.5,664.5 847.5,660.5 851.5,655.5 855.5,651.5 859.5,647.5 863.5,645.5 867.5,642.5 871.5,640.5 875.5,639.5 879.5,638.5 883.5,637.5 887.5,637.5 891.5,637.5 895.5,639.5 899.5,641.5 903.5,645.5 907.5,650.5 911.5,655.5 915.5,662.5 919.5,668.5 923.5,675.5 927.5,683.5 931.5,690.5 935.5,694.5 939.5,698.5 943.5,700.5 947.5,700.5 951.5,700.5 955.5,699.5 959.5,696.5 963.5,694.5 967.5,689.5 971.5,685.5 975.5,680.5 979.5,675.5 983.5,670.5 987.5,665.5 991.5,660.5 995.5,655.5 999.5,650.5 1003.5,646.5 1007.5,643.5 1011.5,640.5 1015.5,640.5 1019.5,641.5 1023.5,642.5 1027.5,644.5 1031.5,647.5 1035.5,649.5 1039.5,652.5 1043.5,654.5 1047.5,656.5 1051.5,658.5 1055.5,660.5 1059.5,662.5 1063.5,663.5 1067.5,665.5 1071.5,667.5 1075.5,669.5 1079.5,671.5 1083.5,673.5 1087.5,675.5 1091.5,677.5 1095.5,678.5 1099.5,678.5 1103.5,678.5 1107.5,678.5 1111.5,676.5 1115.5,674.5 1119.5,671.5 1123.5,668.5 1127.5,664.5 1131.5,661.5 1135.5,657.5 1139.5,654.5 1143.5,650.5 1147.5,647.5 1151.5,645.5 1155.5,644.5 1159.5,643.5 1163.5,643.5 1167.5,643.5 1171.5,644.5 1175.5,646.5 1179.5,648.5 1183.5,650.5 1187.5,654.5 1191.5,657.5 1195.5,661.5 1199.5,664.5 1203.5,667.5 1207.5,669.5 1211.5,671.5 1215.5,673.5 1219.5,675.5 1223.5,677.5 1227.5,677.5 1231.5,678.5 1235.5,678.5 1239.5,678.5 1243.5,678.5 1247.5,678.5 1251.5,678.5 1255.5,678.5 1259.5,678.5 1263.5,678.5 1267.5,679.5 1271.5,681.5 1275.5,682.5 1279.5,685.5 1283.5,687.5 1287.5,689.5 1291.5,692.5 1295.5,694.5 1299.5,697.5 1303.5,699.5 1307.5,699.5 1311.5,699.5 1315.5,698.5 1319.5,696.5 1323.5,695.5 1327.5,694.5 1331.5,693.5 1335.5,692.5 1339.5,691.5 1343.5,689.5 1347.5,688.5 1351.5,687.5 1355.5,686.5 1359.5,684.5 1363.5,683.5 1367.5,681.5 1371.5,680.5 1375.5,679.5 1379.5,679.5 1383.5,679.5 1387.5,679.5 1391.5,680.5 1395.5,681.5 1399.5,682.5 1403.5,683.5 1407.5,685.5 1411.5,687.5 1415.5,689.5 1419.5,691.5 1423.5,693.5 1427.5,695.5 1431.5,697.5 1435.5,699.5 1439.5,700.5 1443.5,701.5 1447.5,700.5 1451.5,699.5 1455.5,697.5 1459.5,696.5 1463.5,695.5 1467.5,696.5 1471.5,697.5 1475.5,700.5 1479.5,703.5 1483.5,706.5 1487.5,710.5 1491.5,714.5" fill="none" stroke="#000" stroke-width="1"/>
<rect x="2" y="2" width="1501" height="1" fill="#000"/>
<rect x="2" y="551" width="1501" height="1" fill="#000"/>
<rect x="2" y="2" width="1" height="550" fill="#000"/>
<rect x="1502" y="2" width="1" height="550" fill="#000"/>
<rect x="2" y="553" width="1501" height="1" fill="#000"/>
<rect x="2" y="821" width="1501" height="1" fill="#000"/>
<rect x="2" y="553" width="1" height="274" fill="#000"/>
<rect x="1502" y="553" width="1" height="274" fill="#000"/>
<rect x="4" y="2" width="1" height="825" fill="#000"/>
<rect x="2" y="826" width="1501" height="1" fill="#000"/>
<rect x="1503" y="42" width="3" height="1" fill="#000"/>
<text x="1509" y="47" class="t">14048.0</text>
<rect x="1503" y="91" width="3" height="1" fill="#000"/>
<text x="1509" y="96" class="t">13778.5</text>
<rect x="1503" y="140" width="3" height="1" fill="#000"/>
<text x="1509" y="145" class="t">13509.0</text>
<rect x="1503" y="189" width="3" height="1" fill="#000"/>
<text x="1509" y="194" class="t">13239.5</text>
<rect x="1503" y="287" width="3" height="1" fill="#000"/>
<text x="1509" y="292" class="t">12700.5</text>
<rect x="1503" y="336" width="3" height="1" fill="#000"/>
<text x="1509" y="341" class="t">12425.5</text>
<rect x="1503" y="385" width="3" height="1" fill="#000"/>
<text x="1509" y="390" class="t">12156.0</text>
<rect x="1503" y="434" width="3" height="1" fill="#000"/>
<text x="1509" y="439" class="t">11886.5</text>
<rect x="1503" y="483" width="3" height="1" fill="#000"/>
<text x="1509" y="488" class="t">11617.0</text>
<rect x="1503" y="532" width="3" height="1" fill="#000"/>
<text x="1509" y="537" class="t">11347.5</text>
<rect x="1503" y="684" width="2" height="1" fill="#000"/>
<rect x="1503" y="555" width="1" height="1" fill="#000"/>
<rect x="99" y="827" width="1" height="3" fill="#000"/>
<text x="98" y="842" class="t">3 Nov 20:00</text>
<rect x="195" y="827" width="1" height="3" fill="#000"/>
<text x="194" y="842" class="t">9 Nov 20:00</text>
<rect x="291" y="827" width="1" height="3" fill="#000"/>
<text x="290" y="842" class="t">13 Nov 20:00</text>
<rect x="387" y="827" width="1" height="3" fill="#000"/>
<text x="386" y="842" class="t">19 Nov 20:00</text>
<rect x="483" y="827" width="1" height="3" fill="#000"/>
<text x="482" y="842" class="t">25 Nov 20:00</text>
<rect x="579" y="827" width="1" height="3" fill="#000"/>
<text x="578" y="842" class="t">1 Dec 20:00</text>
<rect x="675" y="827" width="1" height="3" fill="#000"/>
<text x="674" y="842" class="t">7 Dec 20:00</text>
<rect x="771" y="827" width="1" height="3" fill="#000"/>
<text x="770" y="842" class="t">11 Dec 20:00</text>
<rect x="867" y="827" width="1" height="3" fill="#000"/>
<text x="866" y="842" class="t">17 Dec 20:00</text>
<rect x="963" y="827" width="1" height="3" fill="#000"/>
<text x="962" y="842" class="t">23 Dec 20:00</text>
<rect x="1059" y="827" width="1" height="3" fill="#000"/>
<text x="1058" y="842" class="t">4 Jan 20:00</text>
<rect x="1155" y="827" width="1" height="3" fill="#000"/>
<text x="1154" y="842" class="t">8 Jan 20:00</text>
<rect x="1251" y="827" width="1" height="3" fill="#000"/>
<text x="1250" y="842" class="t">14 Jan 20:00</text>
<rect x="1347" y="827" width="1" height="3" fill="#000"/>
<text x="1346" y="842" class="t">20 Jan 20:00</text>
<rect x="1443" y="827" width="1" height="3" fill="#000"/>
<text x="1442" y="842" class="t">26 Jan 20:00</text>
<rect x="1504" y="107" width="56" height="14" fill="#000"/>
<text x="1509" y="119" class="t w">13654.0</text>
<rect x="1504" y="231" width="56" height="14" fill="#ff0000"/>
<text x="1509" y="243" class="t w">12976.2</text>
<text x="1506" y="567" class="t">272.52</text>
<text x="1506" y="689" class="t">0.00</text>
<rect x="1504" y="814" width="53" height="14" fill="#000"/>
<text x="1509" y="826" class="t w">-289.91</text>
<text x="58" y="842" class="t">20</text>
<rect x="0" y="830" width="59" height="14" fill="#000"/>
<text x="0.5" y="842" class="t w">.28 12:00</text>
<rect x="4" y="826" width="1" height="5" fill="#000"/>
<path d="M6 10 L15 10 L10.5 15 Z" fill="#000"/>
<text x="21" y="17" class="t">FDAX,H4  13680.5 13708.0 13648.0 13654.0</text>
<text x="7" y="569" class="t">MACD(12,26,9) -64.90 -60.34  -&gt;MA(1) -64.90</text>
</svg></body></html>
